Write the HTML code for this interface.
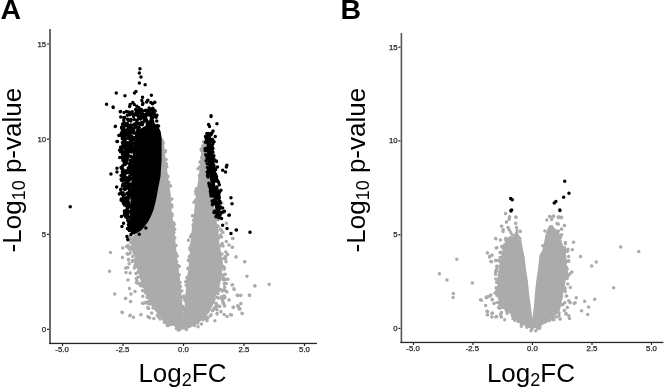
<!DOCTYPE html>
<html><head><meta charset="utf-8">
<style>
html,body{margin:0;padding:0;background:#fff;}
body{width:666px;height:389px;overflow:hidden;position:relative;font-family:"Liberation Sans",sans-serif;}
svg{position:absolute;left:0;top:0;will-change:transform;}
.tk{font-family:"Liberation Sans",sans-serif;font-size:7.8px;fill:#262626;stroke:#262626;stroke-width:0.25px;}
.ttl{font-family:"Liberation Sans",sans-serif;font-size:26px;fill:#000;}
.sub{font-size:18px;}
.pl{font-family:"Liberation Sans",sans-serif;font-size:28.5px;font-weight:bold;fill:#000;}
</style></head>
<body>
<svg width="666" height="389" viewBox="0 0 666 389">
<!-- panel labels -->
<text class="pl" x="0.5" y="18.5">A</text>
<text class="pl" x="340.6" y="18.5">B</text>

<!-- ===== Panel A axes ===== -->
<g id="axA">
<rect x="49" y="29" width="2" height="315" fill="#6a6a6a"/>
<rect x="49" y="342.8" width="268" height="1.3" fill="#262626"/>
<!-- y ticks -->
<g stroke="#222" stroke-width="1.2">
<line x1="47" y1="329.3" x2="49" y2="329.3"/>
<line x1="47" y1="234.3" x2="49" y2="234.3"/>
<line x1="47" y1="139.2" x2="49" y2="139.2"/>
<line x1="47" y1="44" x2="49" y2="44"/>
<line x1="62.5" y1="344" x2="62.5" y2="346"/>
<line x1="123" y1="344" x2="123" y2="346"/>
<line x1="183.5" y1="344" x2="183.5" y2="346"/>
<line x1="244" y1="344" x2="244" y2="346"/>
<line x1="304.5" y1="344" x2="304.5" y2="346"/>
</g>
<g class="tk" text-anchor="end">
<text x="46.2" y="331.8">0</text>
<text x="46.2" y="236.8">5</text>
<text x="46.2" y="141.7">10</text>
<text x="46.2" y="46.5">15</text>
</g>
<g class="tk" text-anchor="middle">
<text x="62" y="352.3">-5.0</text>
<text x="122.5" y="352.3">-2.5</text>
<text x="183.5" y="352.3">0.0</text>
<text x="244" y="352.3">2.5</text>
<text x="304.5" y="352.3">5.0</text>
</g>
<text class="ttl" x="138.4" y="382">Log<tspan class="sub" dy="4">2</tspan><tspan dy="-4">FC</tspan></text>
<text class="ttl" transform="translate(20.8,252.4) rotate(-90)">-Log<tspan class="sub" dy="4">10</tspan><tspan dy="-4"> p-value</tspan></text>
</g>

<!-- ===== Panel B axes ===== -->
<g id="axB">
<rect x="400.6" y="33" width="1.6" height="310" fill="#555"/>
<rect x="400.4" y="341.8" width="263" height="1.3" fill="#262626"/>
<g stroke="#222" stroke-width="1.2">
<line x1="398.4" y1="328.4" x2="400.4" y2="328.4"/>
<line x1="398.4" y1="234.7" x2="400.4" y2="234.7"/>
<line x1="398.4" y1="140.9" x2="400.4" y2="140.9"/>
<line x1="398.4" y1="47.2" x2="400.4" y2="47.2"/>
<line x1="413.5" y1="343" x2="413.5" y2="345"/>
<line x1="472.9" y1="343" x2="472.9" y2="345"/>
<line x1="532.4" y1="343" x2="532.4" y2="345"/>
<line x1="592" y1="343" x2="592" y2="345"/>
<line x1="651.5" y1="343" x2="651.5" y2="345"/>
</g>
<g class="tk" text-anchor="end">
<text x="397.6" y="330.9">0</text>
<text x="397.6" y="237.2">5</text>
<text x="397.6" y="143.4">10</text>
<text x="397.6" y="49.7">15</text>
</g>
<g class="tk" text-anchor="middle">
<text x="413" y="351.4">-5.0</text>
<text x="472.4" y="351.4">-2.5</text>
<text x="532.4" y="351.4">0.0</text>
<text x="592" y="351.4">2.5</text>
<text x="651.5" y="351.4">5.0</text>
</g>
<text class="ttl" x="486.9" y="382">Log<tspan class="sub" dy="4">2</tspan><tspan dy="-4">FC</tspan></text>
<text class="ttl" transform="translate(364.8,252.4) rotate(-90)">-Log<tspan class="sub" dy="4">10</tspan><tspan dy="-4"> p-value</tspan></text>
</g>

<polygon fill="#ababab" points="160.0,136.0 162.5,139.0 164.0,143.0 164.9,151.3 165.7,159.5 166.5,166.0 168.2,176.5 169.0,184.8 170.6,193.0 171.1,201.3 171.5,209.5 172.3,216.0 174.0,226.5 175.6,243.0 177.3,259.5 178.1,266.0 179.7,276.5 181.4,293.0 182.7,309.5 183.7,318.0 184.4,309.5 185.5,293.0 187.2,276.5 188.8,266.0 189.3,259.5 190.5,243.0 192.1,226.5 193.8,216.0 194.3,209.5 196.2,193.0 198.7,176.5 200.4,160.0 201.5,150.0 202.5,144.0 204.0,142.0 206.0,141.0 209.0,150.0 211.0,165.0 213.0,190.0 214.5,210.0 215.2,216.0 217.7,226.5 219.4,243.0 222.2,259.5 223.5,266.0 222.5,268.3 221.7,276.5 220.0,284.8 218.4,293.0 216.2,295.0 215.0,301.0 212.0,307.0 209.0,313.0 203.0,319.0 197.0,323.8 190.8,327.4 183.6,329.8 177.3,327.4 168.9,323.8 162.9,319.0 156.8,313.0 152.0,307.0 150.2,301.0 147.2,295.0 145.9,293.0 141.8,284.8 139.3,276.5 137.5,268.3 136.5,260.0 132.5,253.0 131.0,246.3 132.0,239.7 134.0,233.0 140.0,225.0 150.0,214.0 155.0,195.0 158.0,175.0 158.0,150.0"/>
<path fill="#ababab" d="M130.4 239.8a1.75 1.75 0 1 0 3.50 0a1.75 1.75 0 1 0 -3.50 0M132.5 267.9a1.75 1.75 0 1 0 3.50 0a1.75 1.75 0 1 0 -3.50 0M208.6 315.8a1.75 1.75 0 1 0 3.50 0a1.75 1.75 0 1 0 -3.50 0M161.2 318.1a1.75 1.75 0 1 0 3.50 0a1.75 1.75 0 1 0 -3.50 0M222.4 295.8a1.75 1.75 0 1 0 3.50 0a1.75 1.75 0 1 0 -3.50 0M216.9 306.1a1.75 1.75 0 1 0 3.50 0a1.75 1.75 0 1 0 -3.50 0M214.3 308.2a1.75 1.75 0 1 0 3.50 0a1.75 1.75 0 1 0 -3.50 0M134.7 258.0a1.75 1.75 0 1 0 3.50 0a1.75 1.75 0 1 0 -3.50 0M178.6 329.0a1.75 1.75 0 1 0 3.50 0a1.75 1.75 0 1 0 -3.50 0M212.1 309.1a1.75 1.75 0 1 0 3.50 0a1.75 1.75 0 1 0 -3.50 0M127.1 248.3a1.75 1.75 0 1 0 3.50 0a1.75 1.75 0 1 0 -3.50 0M222.8 267.7a1.75 1.75 0 1 0 3.50 0a1.75 1.75 0 1 0 -3.50 0M222.6 258.1a1.75 1.75 0 1 0 3.50 0a1.75 1.75 0 1 0 -3.50 0M218.0 306.4a1.75 1.75 0 1 0 3.50 0a1.75 1.75 0 1 0 -3.50 0M224.3 261.7a1.75 1.75 0 1 0 3.50 0a1.75 1.75 0 1 0 -3.50 0M165.6 325.4a1.75 1.75 0 1 0 3.50 0a1.75 1.75 0 1 0 -3.50 0M225.2 291.9a1.75 1.75 0 1 0 3.50 0a1.75 1.75 0 1 0 -3.50 0M224.3 291.0a1.75 1.75 0 1 0 3.50 0a1.75 1.75 0 1 0 -3.50 0M167.6 322.0a1.75 1.75 0 1 0 3.50 0a1.75 1.75 0 1 0 -3.50 0M135.2 280.7a1.75 1.75 0 1 0 3.50 0a1.75 1.75 0 1 0 -3.50 0M173.5 324.7a1.75 1.75 0 1 0 3.50 0a1.75 1.75 0 1 0 -3.50 0M221.3 246.0a1.75 1.75 0 1 0 3.50 0a1.75 1.75 0 1 0 -3.50 0M136.8 267.1a1.75 1.75 0 1 0 3.50 0a1.75 1.75 0 1 0 -3.50 0M131.7 243.8a1.75 1.75 0 1 0 3.50 0a1.75 1.75 0 1 0 -3.50 0M205.0 319.6a1.75 1.75 0 1 0 3.50 0a1.75 1.75 0 1 0 -3.50 0M126.1 254.3a1.75 1.75 0 1 0 3.50 0a1.75 1.75 0 1 0 -3.50 0M129.4 239.3a1.75 1.75 0 1 0 3.50 0a1.75 1.75 0 1 0 -3.50 0M224.4 279.2a1.75 1.75 0 1 0 3.50 0a1.75 1.75 0 1 0 -3.50 0M124.8 246.5a1.75 1.75 0 1 0 3.50 0a1.75 1.75 0 1 0 -3.50 0M133.5 262.1a1.75 1.75 0 1 0 3.50 0a1.75 1.75 0 1 0 -3.50 0M138.6 276.5a1.75 1.75 0 1 0 3.50 0a1.75 1.75 0 1 0 -3.50 0M131.9 246.7a1.75 1.75 0 1 0 3.50 0a1.75 1.75 0 1 0 -3.50 0M130.5 247.0a1.75 1.75 0 1 0 3.50 0a1.75 1.75 0 1 0 -3.50 0M216.3 239.0a1.75 1.75 0 1 0 3.50 0a1.75 1.75 0 1 0 -3.50 0M138.8 276.5a1.75 1.75 0 1 0 3.50 0a1.75 1.75 0 1 0 -3.50 0M215.6 297.2a1.75 1.75 0 1 0 3.50 0a1.75 1.75 0 1 0 -3.50 0M219.7 298.4a1.75 1.75 0 1 0 3.50 0a1.75 1.75 0 1 0 -3.50 0M215.3 309.8a1.75 1.75 0 1 0 3.50 0a1.75 1.75 0 1 0 -3.50 0M221.1 279.4a1.75 1.75 0 1 0 3.50 0a1.75 1.75 0 1 0 -3.50 0M219.7 230.7a1.75 1.75 0 1 0 3.50 0a1.75 1.75 0 1 0 -3.50 0M130.6 248.1a1.75 1.75 0 1 0 3.50 0a1.75 1.75 0 1 0 -3.50 0M214.2 218.5a1.75 1.75 0 1 0 3.50 0a1.75 1.75 0 1 0 -3.50 0M164.6 323.0a1.75 1.75 0 1 0 3.50 0a1.75 1.75 0 1 0 -3.50 0M209.3 314.8a1.75 1.75 0 1 0 3.50 0a1.75 1.75 0 1 0 -3.50 0M221.2 299.4a1.75 1.75 0 1 0 3.50 0a1.75 1.75 0 1 0 -3.50 0M223.0 290.4a1.75 1.75 0 1 0 3.50 0a1.75 1.75 0 1 0 -3.50 0M223.2 297.4a1.75 1.75 0 1 0 3.50 0a1.75 1.75 0 1 0 -3.50 0M224.1 252.0a1.75 1.75 0 1 0 3.50 0a1.75 1.75 0 1 0 -3.50 0M147.1 303.8a1.75 1.75 0 1 0 3.50 0a1.75 1.75 0 1 0 -3.50 0M192.8 325.6a1.75 1.75 0 1 0 3.50 0a1.75 1.75 0 1 0 -3.50 0M130.4 261.4a1.75 1.75 0 1 0 3.50 0a1.75 1.75 0 1 0 -3.50 0M220.2 254.0a1.75 1.75 0 1 0 3.50 0a1.75 1.75 0 1 0 -3.50 0M162.6 322.2a1.75 1.75 0 1 0 3.50 0a1.75 1.75 0 1 0 -3.50 0M216.6 219.5a1.75 1.75 0 1 0 3.50 0a1.75 1.75 0 1 0 -3.50 0M219.0 245.7a1.75 1.75 0 1 0 3.50 0a1.75 1.75 0 1 0 -3.50 0M201.2 319.8a1.75 1.75 0 1 0 3.50 0a1.75 1.75 0 1 0 -3.50 0M222.9 287.3a1.75 1.75 0 1 0 3.50 0a1.75 1.75 0 1 0 -3.50 0M218.6 289.2a1.75 1.75 0 1 0 3.50 0a1.75 1.75 0 1 0 -3.50 0M219.8 237.1a1.75 1.75 0 1 0 3.50 0a1.75 1.75 0 1 0 -3.50 0M144.6 303.0a1.75 1.75 0 1 0 3.50 0a1.75 1.75 0 1 0 -3.50 0M134.2 273.6a1.75 1.75 0 1 0 3.50 0a1.75 1.75 0 1 0 -3.50 0M128.4 249.9a1.75 1.75 0 1 0 3.50 0a1.75 1.75 0 1 0 -3.50 0M224.5 283.4a1.75 1.75 0 1 0 3.50 0a1.75 1.75 0 1 0 -3.50 0M220.1 259.0a1.75 1.75 0 1 0 3.50 0a1.75 1.75 0 1 0 -3.50 0M125.4 253.8a1.75 1.75 0 1 0 3.50 0a1.75 1.75 0 1 0 -3.50 0M141.1 296.3a1.75 1.75 0 1 0 3.50 0a1.75 1.75 0 1 0 -3.50 0M135.5 272.7a1.75 1.75 0 1 0 3.50 0a1.75 1.75 0 1 0 -3.50 0M133.7 267.0a1.75 1.75 0 1 0 3.50 0a1.75 1.75 0 1 0 -3.50 0M174.9 326.5a1.75 1.75 0 1 0 3.50 0a1.75 1.75 0 1 0 -3.50 0M218.6 235.1a1.75 1.75 0 1 0 3.50 0a1.75 1.75 0 1 0 -3.50 0M131.0 256.5a1.75 1.75 0 1 0 3.50 0a1.75 1.75 0 1 0 -3.50 0M128.0 237.0a1.75 1.75 0 1 0 3.50 0a1.75 1.75 0 1 0 -3.50 0M136.1 277.3a1.75 1.75 0 1 0 3.50 0a1.75 1.75 0 1 0 -3.50 0M214.0 306.3a1.75 1.75 0 1 0 3.50 0a1.75 1.75 0 1 0 -3.50 0M220.8 300.7a1.75 1.75 0 1 0 3.50 0a1.75 1.75 0 1 0 -3.50 0M221.2 232.4a1.75 1.75 0 1 0 3.50 0a1.75 1.75 0 1 0 -3.50 0M214.9 217.8a1.75 1.75 0 1 0 3.50 0a1.75 1.75 0 1 0 -3.50 0M211.6 309.8a1.75 1.75 0 1 0 3.50 0a1.75 1.75 0 1 0 -3.50 0M126.4 245.6a1.75 1.75 0 1 0 3.50 0a1.75 1.75 0 1 0 -3.50 0M223.5 274.2a1.75 1.75 0 1 0 3.50 0a1.75 1.75 0 1 0 -3.50 0M127.4 263.7a1.75 1.75 0 1 0 3.50 0a1.75 1.75 0 1 0 -3.50 0M216.0 226.0a1.75 1.75 0 1 0 3.50 0a1.75 1.75 0 1 0 -3.50 0M215.8 218.9a1.75 1.75 0 1 0 3.50 0a1.75 1.75 0 1 0 -3.50 0M137.2 269.4a1.75 1.75 0 1 0 3.50 0a1.75 1.75 0 1 0 -3.50 0M134.7 260.4a1.75 1.75 0 1 0 3.50 0a1.75 1.75 0 1 0 -3.50 0M138.9 285.7a1.75 1.75 0 1 0 3.50 0a1.75 1.75 0 1 0 -3.50 0M134.3 264.5a1.75 1.75 0 1 0 3.50 0a1.75 1.75 0 1 0 -3.50 0M143.1 291.6a1.75 1.75 0 1 0 3.50 0a1.75 1.75 0 1 0 -3.50 0M174.7 328.6a1.75 1.75 0 1 0 3.50 0a1.75 1.75 0 1 0 -3.50 0M221.1 276.0a1.75 1.75 0 1 0 3.50 0a1.75 1.75 0 1 0 -3.50 0M134.7 282.4a1.75 1.75 0 1 0 3.50 0a1.75 1.75 0 1 0 -3.50 0M166.5 325.5a1.75 1.75 0 1 0 3.50 0a1.75 1.75 0 1 0 -3.50 0M145.9 295.0a1.75 1.75 0 1 0 3.50 0a1.75 1.75 0 1 0 -3.50 0M147.4 301.6a1.75 1.75 0 1 0 3.50 0a1.75 1.75 0 1 0 -3.50 0M221.1 276.9a1.75 1.75 0 1 0 3.50 0a1.75 1.75 0 1 0 -3.50 0M146.8 308.6a1.75 1.75 0 1 0 3.50 0a1.75 1.75 0 1 0 -3.50 0M214.2 225.1a1.75 1.75 0 1 0 3.50 0a1.75 1.75 0 1 0 -3.50 0M217.6 218.0a1.75 1.75 0 1 0 3.50 0a1.75 1.75 0 1 0 -3.50 0M215.1 219.8a1.75 1.75 0 1 0 3.50 0a1.75 1.75 0 1 0 -3.50 0M218.9 229.3a1.75 1.75 0 1 0 3.50 0a1.75 1.75 0 1 0 -3.50 0M216.5 226.5a1.75 1.75 0 1 0 3.50 0a1.75 1.75 0 1 0 -3.50 0M215.7 230.6a1.75 1.75 0 1 0 3.50 0a1.75 1.75 0 1 0 -3.50 0M215.4 231.6a1.75 1.75 0 1 0 3.50 0a1.75 1.75 0 1 0 -3.50 0M218.1 236.9a1.75 1.75 0 1 0 3.50 0a1.75 1.75 0 1 0 -3.50 0M217.6 254.2a1.75 1.75 0 1 0 3.50 0a1.75 1.75 0 1 0 -3.50 0M223.9 256.4a1.75 1.75 0 1 0 3.50 0a1.75 1.75 0 1 0 -3.50 0M220.4 243.5a1.75 1.75 0 1 0 3.50 0a1.75 1.75 0 1 0 -3.50 0M217.2 256.4a1.75 1.75 0 1 0 3.50 0a1.75 1.75 0 1 0 -3.50 0M220.1 245.0a1.75 1.75 0 1 0 3.50 0a1.75 1.75 0 1 0 -3.50 0M219.1 259.9a1.75 1.75 0 1 0 3.50 0a1.75 1.75 0 1 0 -3.50 0M223.7 258.9a1.75 1.75 0 1 0 3.50 0a1.75 1.75 0 1 0 -3.50 0M221.5 266.6a1.75 1.75 0 1 0 3.50 0a1.75 1.75 0 1 0 -3.50 0M222.3 269.3a1.75 1.75 0 1 0 3.50 0a1.75 1.75 0 1 0 -3.50 0M221.9 274.8a1.75 1.75 0 1 0 3.50 0a1.75 1.75 0 1 0 -3.50 0M222.3 280.0a1.75 1.75 0 1 0 3.50 0a1.75 1.75 0 1 0 -3.50 0M222.5 283.9a1.75 1.75 0 1 0 3.50 0a1.75 1.75 0 1 0 -3.50 0M222.3 278.4a1.75 1.75 0 1 0 3.50 0a1.75 1.75 0 1 0 -3.50 0M216.3 291.1a1.75 1.75 0 1 0 3.50 0a1.75 1.75 0 1 0 -3.50 0M220.4 290.9a1.75 1.75 0 1 0 3.50 0a1.75 1.75 0 1 0 -3.50 0M215.8 291.5a1.75 1.75 0 1 0 3.50 0a1.75 1.75 0 1 0 -3.50 0M216.2 293.4a1.75 1.75 0 1 0 3.50 0a1.75 1.75 0 1 0 -3.50 0M212.3 299.2a1.75 1.75 0 1 0 3.50 0a1.75 1.75 0 1 0 -3.50 0M216.4 298.1a1.75 1.75 0 1 0 3.50 0a1.75 1.75 0 1 0 -3.50 0M211.8 302.3a1.75 1.75 0 1 0 3.50 0a1.75 1.75 0 1 0 -3.50 0M214.5 303.4a1.75 1.75 0 1 0 3.50 0a1.75 1.75 0 1 0 -3.50 0M212.2 308.4a1.75 1.75 0 1 0 3.50 0a1.75 1.75 0 1 0 -3.50 0M210.7 310.7a1.75 1.75 0 1 0 3.50 0a1.75 1.75 0 1 0 -3.50 0M206.0 317.7a1.75 1.75 0 1 0 3.50 0a1.75 1.75 0 1 0 -3.50 0M204.7 316.9a1.75 1.75 0 1 0 3.50 0a1.75 1.75 0 1 0 -3.50 0M202.7 318.5a1.75 1.75 0 1 0 3.50 0a1.75 1.75 0 1 0 -3.50 0M197.4 319.9a1.75 1.75 0 1 0 3.50 0a1.75 1.75 0 1 0 -3.50 0M196.1 322.9a1.75 1.75 0 1 0 3.50 0a1.75 1.75 0 1 0 -3.50 0M191.3 322.4a1.75 1.75 0 1 0 3.50 0a1.75 1.75 0 1 0 -3.50 0M196.3 326.7a1.75 1.75 0 1 0 3.50 0a1.75 1.75 0 1 0 -3.50 0M184.6 329.4a1.75 1.75 0 1 0 3.50 0a1.75 1.75 0 1 0 -3.50 0M184.8 329.3a1.75 1.75 0 1 0 3.50 0a1.75 1.75 0 1 0 -3.50 0M176.7 330.3a1.75 1.75 0 1 0 3.50 0a1.75 1.75 0 1 0 -3.50 0M175.6 327.6a1.75 1.75 0 1 0 3.50 0a1.75 1.75 0 1 0 -3.50 0M172.5 322.8a1.75 1.75 0 1 0 3.50 0a1.75 1.75 0 1 0 -3.50 0M174.8 328.4a1.75 1.75 0 1 0 3.50 0a1.75 1.75 0 1 0 -3.50 0M169.7 324.5a1.75 1.75 0 1 0 3.50 0a1.75 1.75 0 1 0 -3.50 0M162.2 319.4a1.75 1.75 0 1 0 3.50 0a1.75 1.75 0 1 0 -3.50 0M165.8 321.0a1.75 1.75 0 1 0 3.50 0a1.75 1.75 0 1 0 -3.50 0M155.6 315.2a1.75 1.75 0 1 0 3.50 0a1.75 1.75 0 1 0 -3.50 0M160.5 317.1a1.75 1.75 0 1 0 3.50 0a1.75 1.75 0 1 0 -3.50 0M156.7 316.8a1.75 1.75 0 1 0 3.50 0a1.75 1.75 0 1 0 -3.50 0M151.2 308.0a1.75 1.75 0 1 0 3.50 0a1.75 1.75 0 1 0 -3.50 0M149.9 313.1a1.75 1.75 0 1 0 3.50 0a1.75 1.75 0 1 0 -3.50 0M148.9 304.1a1.75 1.75 0 1 0 3.50 0a1.75 1.75 0 1 0 -3.50 0M145.7 302.0a1.75 1.75 0 1 0 3.50 0a1.75 1.75 0 1 0 -3.50 0M145.4 297.6a1.75 1.75 0 1 0 3.50 0a1.75 1.75 0 1 0 -3.50 0M148.2 298.8a1.75 1.75 0 1 0 3.50 0a1.75 1.75 0 1 0 -3.50 0M146.2 293.6a1.75 1.75 0 1 0 3.50 0a1.75 1.75 0 1 0 -3.50 0M141.4 286.3a1.75 1.75 0 1 0 3.50 0a1.75 1.75 0 1 0 -3.50 0M143.8 292.7a1.75 1.75 0 1 0 3.50 0a1.75 1.75 0 1 0 -3.50 0M144.5 287.2a1.75 1.75 0 1 0 3.50 0a1.75 1.75 0 1 0 -3.50 0M139.2 284.6a1.75 1.75 0 1 0 3.50 0a1.75 1.75 0 1 0 -3.50 0M138.6 283.5a1.75 1.75 0 1 0 3.50 0a1.75 1.75 0 1 0 -3.50 0M138.9 276.8a1.75 1.75 0 1 0 3.50 0a1.75 1.75 0 1 0 -3.50 0M137.0 269.8a1.75 1.75 0 1 0 3.50 0a1.75 1.75 0 1 0 -3.50 0M137.0 268.8a1.75 1.75 0 1 0 3.50 0a1.75 1.75 0 1 0 -3.50 0M137.2 271.2a1.75 1.75 0 1 0 3.50 0a1.75 1.75 0 1 0 -3.50 0M136.5 262.3a1.75 1.75 0 1 0 3.50 0a1.75 1.75 0 1 0 -3.50 0M136.3 266.4a1.75 1.75 0 1 0 3.50 0a1.75 1.75 0 1 0 -3.50 0M137.2 262.5a1.75 1.75 0 1 0 3.50 0a1.75 1.75 0 1 0 -3.50 0M133.0 260.1a1.75 1.75 0 1 0 3.50 0a1.75 1.75 0 1 0 -3.50 0M130.7 260.6a1.75 1.75 0 1 0 3.50 0a1.75 1.75 0 1 0 -3.50 0M127.9 247.2a1.75 1.75 0 1 0 3.50 0a1.75 1.75 0 1 0 -3.50 0M131.2 248.3a1.75 1.75 0 1 0 3.50 0a1.75 1.75 0 1 0 -3.50 0M126.8 240.6a1.75 1.75 0 1 0 3.50 0a1.75 1.75 0 1 0 -3.50 0M129.1 242.5a1.75 1.75 0 1 0 3.50 0a1.75 1.75 0 1 0 -3.50 0M128.9 236.2a1.75 1.75 0 1 0 3.50 0a1.75 1.75 0 1 0 -3.50 0M132.4 238.0a1.75 1.75 0 1 0 3.50 0a1.75 1.75 0 1 0 -3.50 0M136.3 224.4a1.75 1.75 0 1 0 3.50 0a1.75 1.75 0 1 0 -3.50 0M132.3 232.4a1.75 1.75 0 1 0 3.50 0a1.75 1.75 0 1 0 -3.50 0M132.5 231.7a1.75 1.75 0 1 0 3.50 0a1.75 1.75 0 1 0 -3.50 0M159.2 139.3a1.75 1.75 0 1 0 3.50 0a1.75 1.75 0 1 0 -3.50 0M160.8 141.0a1.75 1.75 0 1 0 3.50 0a1.75 1.75 0 1 0 -3.50 0M161.6 143.2a1.75 1.75 0 1 0 3.50 0a1.75 1.75 0 1 0 -3.50 0M163.7 150.7a1.75 1.75 0 1 0 3.50 0a1.75 1.75 0 1 0 -3.50 0M163.2 159.4a1.75 1.75 0 1 0 3.50 0a1.75 1.75 0 1 0 -3.50 0M163.3 152.1a1.75 1.75 0 1 0 3.50 0a1.75 1.75 0 1 0 -3.50 0M164.6 163.7a1.75 1.75 0 1 0 3.50 0a1.75 1.75 0 1 0 -3.50 0M164.3 159.6a1.75 1.75 0 1 0 3.50 0a1.75 1.75 0 1 0 -3.50 0M164.6 166.1a1.75 1.75 0 1 0 3.50 0a1.75 1.75 0 1 0 -3.50 0M166.1 176.2a1.75 1.75 0 1 0 3.50 0a1.75 1.75 0 1 0 -3.50 0M165.1 166.9a1.75 1.75 0 1 0 3.50 0a1.75 1.75 0 1 0 -3.50 0M166.2 176.7a1.75 1.75 0 1 0 3.50 0a1.75 1.75 0 1 0 -3.50 0M167.1 182.5a1.75 1.75 0 1 0 3.50 0a1.75 1.75 0 1 0 -3.50 0M168.7 186.1a1.75 1.75 0 1 0 3.50 0a1.75 1.75 0 1 0 -3.50 0M167.5 185.2a1.75 1.75 0 1 0 3.50 0a1.75 1.75 0 1 0 -3.50 0M168.2 200.2a1.75 1.75 0 1 0 3.50 0a1.75 1.75 0 1 0 -3.50 0M170.1 199.0a1.75 1.75 0 1 0 3.50 0a1.75 1.75 0 1 0 -3.50 0M170.1 207.1a1.75 1.75 0 1 0 3.50 0a1.75 1.75 0 1 0 -3.50 0M170.0 205.1a1.75 1.75 0 1 0 3.50 0a1.75 1.75 0 1 0 -3.50 0M170.3 215.8a1.75 1.75 0 1 0 3.50 0a1.75 1.75 0 1 0 -3.50 0M170.4 214.1a1.75 1.75 0 1 0 3.50 0a1.75 1.75 0 1 0 -3.50 0M171.7 222.8a1.75 1.75 0 1 0 3.50 0a1.75 1.75 0 1 0 -3.50 0M172.5 224.5a1.75 1.75 0 1 0 3.50 0a1.75 1.75 0 1 0 -3.50 0M172.1 223.6a1.75 1.75 0 1 0 3.50 0a1.75 1.75 0 1 0 -3.50 0M173.0 229.2a1.75 1.75 0 1 0 3.50 0a1.75 1.75 0 1 0 -3.50 0M171.7 227.5a1.75 1.75 0 1 0 3.50 0a1.75 1.75 0 1 0 -3.50 0M172.2 232.6a1.75 1.75 0 1 0 3.50 0a1.75 1.75 0 1 0 -3.50 0M173.0 237.7a1.75 1.75 0 1 0 3.50 0a1.75 1.75 0 1 0 -3.50 0M174.3 245.4a1.75 1.75 0 1 0 3.50 0a1.75 1.75 0 1 0 -3.50 0M174.3 253.7a1.75 1.75 0 1 0 3.50 0a1.75 1.75 0 1 0 -3.50 0M174.3 253.5a1.75 1.75 0 1 0 3.50 0a1.75 1.75 0 1 0 -3.50 0M175.5 255.9a1.75 1.75 0 1 0 3.50 0a1.75 1.75 0 1 0 -3.50 0M176.5 265.6a1.75 1.75 0 1 0 3.50 0a1.75 1.75 0 1 0 -3.50 0M174.9 261.5a1.75 1.75 0 1 0 3.50 0a1.75 1.75 0 1 0 -3.50 0M177.5 266.5a1.75 1.75 0 1 0 3.50 0a1.75 1.75 0 1 0 -3.50 0M177.5 274.7a1.75 1.75 0 1 0 3.50 0a1.75 1.75 0 1 0 -3.50 0M175.4 269.7a1.75 1.75 0 1 0 3.50 0a1.75 1.75 0 1 0 -3.50 0M178.2 290.3a1.75 1.75 0 1 0 3.50 0a1.75 1.75 0 1 0 -3.50 0M178.7 286.4a1.75 1.75 0 1 0 3.50 0a1.75 1.75 0 1 0 -3.50 0M180.1 291.1a1.75 1.75 0 1 0 3.50 0a1.75 1.75 0 1 0 -3.50 0M178.2 282.8a1.75 1.75 0 1 0 3.50 0a1.75 1.75 0 1 0 -3.50 0M179.9 307.9a1.75 1.75 0 1 0 3.50 0a1.75 1.75 0 1 0 -3.50 0M180.7 306.3a1.75 1.75 0 1 0 3.50 0a1.75 1.75 0 1 0 -3.50 0M180.0 297.3a1.75 1.75 0 1 0 3.50 0a1.75 1.75 0 1 0 -3.50 0M179.1 300.1a1.75 1.75 0 1 0 3.50 0a1.75 1.75 0 1 0 -3.50 0M181.2 317.1a1.75 1.75 0 1 0 3.50 0a1.75 1.75 0 1 0 -3.50 0M181.6 309.8a1.75 1.75 0 1 0 3.50 0a1.75 1.75 0 1 0 -3.50 0M183.7 310.7a1.75 1.75 0 1 0 3.50 0a1.75 1.75 0 1 0 -3.50 0M182.6 313.2a1.75 1.75 0 1 0 3.50 0a1.75 1.75 0 1 0 -3.50 0M182.2 296.1a1.75 1.75 0 1 0 3.50 0a1.75 1.75 0 1 0 -3.50 0M182.9 298.2a1.75 1.75 0 1 0 3.50 0a1.75 1.75 0 1 0 -3.50 0M183.1 308.1a1.75 1.75 0 1 0 3.50 0a1.75 1.75 0 1 0 -3.50 0M183.1 300.4a1.75 1.75 0 1 0 3.50 0a1.75 1.75 0 1 0 -3.50 0M185.5 280.7a1.75 1.75 0 1 0 3.50 0a1.75 1.75 0 1 0 -3.50 0M185.2 277.6a1.75 1.75 0 1 0 3.50 0a1.75 1.75 0 1 0 -3.50 0M184.0 281.7a1.75 1.75 0 1 0 3.50 0a1.75 1.75 0 1 0 -3.50 0M184.4 285.3a1.75 1.75 0 1 0 3.50 0a1.75 1.75 0 1 0 -3.50 0M186.1 268.5a1.75 1.75 0 1 0 3.50 0a1.75 1.75 0 1 0 -3.50 0M187.0 268.2a1.75 1.75 0 1 0 3.50 0a1.75 1.75 0 1 0 -3.50 0M186.7 268.0a1.75 1.75 0 1 0 3.50 0a1.75 1.75 0 1 0 -3.50 0M187.3 261.0a1.75 1.75 0 1 0 3.50 0a1.75 1.75 0 1 0 -3.50 0M186.6 260.1a1.75 1.75 0 1 0 3.50 0a1.75 1.75 0 1 0 -3.50 0M189.4 245.0a1.75 1.75 0 1 0 3.50 0a1.75 1.75 0 1 0 -3.50 0M188.4 249.8a1.75 1.75 0 1 0 3.50 0a1.75 1.75 0 1 0 -3.50 0M187.6 256.4a1.75 1.75 0 1 0 3.50 0a1.75 1.75 0 1 0 -3.50 0M188.0 247.9a1.75 1.75 0 1 0 3.50 0a1.75 1.75 0 1 0 -3.50 0M190.0 237.1a1.75 1.75 0 1 0 3.50 0a1.75 1.75 0 1 0 -3.50 0M189.9 234.5a1.75 1.75 0 1 0 3.50 0a1.75 1.75 0 1 0 -3.50 0M186.7 240.3a1.75 1.75 0 1 0 3.50 0a1.75 1.75 0 1 0 -3.50 0M188.7 236.8a1.75 1.75 0 1 0 3.50 0a1.75 1.75 0 1 0 -3.50 0M191.3 225.5a1.75 1.75 0 1 0 3.50 0a1.75 1.75 0 1 0 -3.50 0M191.5 225.0a1.75 1.75 0 1 0 3.50 0a1.75 1.75 0 1 0 -3.50 0M191.8 220.3a1.75 1.75 0 1 0 3.50 0a1.75 1.75 0 1 0 -3.50 0M191.4 215.8a1.75 1.75 0 1 0 3.50 0a1.75 1.75 0 1 0 -3.50 0M190.7 215.7a1.75 1.75 0 1 0 3.50 0a1.75 1.75 0 1 0 -3.50 0M193.6 201.5a1.75 1.75 0 1 0 3.50 0a1.75 1.75 0 1 0 -3.50 0M193.7 200.2a1.75 1.75 0 1 0 3.50 0a1.75 1.75 0 1 0 -3.50 0M192.2 202.3a1.75 1.75 0 1 0 3.50 0a1.75 1.75 0 1 0 -3.50 0M194.2 193.9a1.75 1.75 0 1 0 3.50 0a1.75 1.75 0 1 0 -3.50 0M198.1 177.3a1.75 1.75 0 1 0 3.50 0a1.75 1.75 0 1 0 -3.50 0M194.6 188.7a1.75 1.75 0 1 0 3.50 0a1.75 1.75 0 1 0 -3.50 0M194.8 190.0a1.75 1.75 0 1 0 3.50 0a1.75 1.75 0 1 0 -3.50 0M193.8 191.5a1.75 1.75 0 1 0 3.50 0a1.75 1.75 0 1 0 -3.50 0M198.2 162.1a1.75 1.75 0 1 0 3.50 0a1.75 1.75 0 1 0 -3.50 0M196.3 168.8a1.75 1.75 0 1 0 3.50 0a1.75 1.75 0 1 0 -3.50 0M197.6 175.5a1.75 1.75 0 1 0 3.50 0a1.75 1.75 0 1 0 -3.50 0M198.2 166.7a1.75 1.75 0 1 0 3.50 0a1.75 1.75 0 1 0 -3.50 0M199.5 150.4a1.75 1.75 0 1 0 3.50 0a1.75 1.75 0 1 0 -3.50 0M199.8 157.5a1.75 1.75 0 1 0 3.50 0a1.75 1.75 0 1 0 -3.50 0M200.1 150.5a1.75 1.75 0 1 0 3.50 0a1.75 1.75 0 1 0 -3.50 0M201.0 146.1a1.75 1.75 0 1 0 3.50 0a1.75 1.75 0 1 0 -3.50 0M199.4 149.0a1.75 1.75 0 1 0 3.50 0a1.75 1.75 0 1 0 -3.50 0M201.8 141.8a1.75 1.75 0 1 0 3.50 0a1.75 1.75 0 1 0 -3.50 0M202.3 142.0a1.75 1.75 0 1 0 3.50 0a1.75 1.75 0 1 0 -3.50 0M108.7 252.6a1.75 1.75 0 1 0 3.50 0a1.75 1.75 0 1 0 -3.50 0M121.0 248.0a1.75 1.75 0 1 0 3.50 0a1.75 1.75 0 1 0 -3.50 0M120.7 257.6a1.75 1.75 0 1 0 3.50 0a1.75 1.75 0 1 0 -3.50 0M126.8 259.2a1.75 1.75 0 1 0 3.50 0a1.75 1.75 0 1 0 -3.50 0M128.4 253.3a1.75 1.75 0 1 0 3.50 0a1.75 1.75 0 1 0 -3.50 0M107.8 271.2a1.75 1.75 0 1 0 3.50 0a1.75 1.75 0 1 0 -3.50 0M113.0 293.9a1.75 1.75 0 1 0 3.50 0a1.75 1.75 0 1 0 -3.50 0M120.7 312.5a1.75 1.75 0 1 0 3.50 0a1.75 1.75 0 1 0 -3.50 0M124.0 267.9a1.75 1.75 0 1 0 3.50 0a1.75 1.75 0 1 0 -3.50 0M126.0 267.4a1.75 1.75 0 1 0 3.50 0a1.75 1.75 0 1 0 -3.50 0M124.2 272.4a1.75 1.75 0 1 0 3.50 0a1.75 1.75 0 1 0 -3.50 0M128.4 272.9a1.75 1.75 0 1 0 3.50 0a1.75 1.75 0 1 0 -3.50 0M126.2 280.1a1.75 1.75 0 1 0 3.50 0a1.75 1.75 0 1 0 -3.50 0M127.7 288.4a1.75 1.75 0 1 0 3.50 0a1.75 1.75 0 1 0 -3.50 0M129.2 293.9a1.75 1.75 0 1 0 3.50 0a1.75 1.75 0 1 0 -3.50 0M133.3 291.4a1.75 1.75 0 1 0 3.50 0a1.75 1.75 0 1 0 -3.50 0M124.0 298.3a1.75 1.75 0 1 0 3.50 0a1.75 1.75 0 1 0 -3.50 0M128.9 301.6a1.75 1.75 0 1 0 3.50 0a1.75 1.75 0 1 0 -3.50 0M134.6 278.5a1.75 1.75 0 1 0 3.50 0a1.75 1.75 0 1 0 -3.50 0M136.3 283.6a1.75 1.75 0 1 0 3.50 0a1.75 1.75 0 1 0 -3.50 0M133.3 265.3a1.75 1.75 0 1 0 3.50 0a1.75 1.75 0 1 0 -3.50 0M140.8 290.6a1.75 1.75 0 1 0 3.50 0a1.75 1.75 0 1 0 -3.50 0M141.7 303.3a1.75 1.75 0 1 0 3.50 0a1.75 1.75 0 1 0 -3.50 0M146.2 307.9a1.75 1.75 0 1 0 3.50 0a1.75 1.75 0 1 0 -3.50 0M139.2 314.5a1.75 1.75 0 1 0 3.50 0a1.75 1.75 0 1 0 -3.50 0M128.4 315.3a1.75 1.75 0 1 0 3.50 0a1.75 1.75 0 1 0 -3.50 0M126.8 260.0a1.75 1.75 0 1 0 3.50 0a1.75 1.75 0 1 0 -3.50 0M123.8 298.6a1.75 1.75 0 1 0 3.50 0a1.75 1.75 0 1 0 -3.50 0M128.7 301.6a1.75 1.75 0 1 0 3.50 0a1.75 1.75 0 1 0 -3.50 0M120.2 312.2a1.75 1.75 0 1 0 3.50 0a1.75 1.75 0 1 0 -3.50 0M128.1 315.7a1.75 1.75 0 1 0 3.50 0a1.75 1.75 0 1 0 -3.50 0M131.7 317.2a1.75 1.75 0 1 0 3.50 0a1.75 1.75 0 1 0 -3.50 0M139.2 314.8a1.75 1.75 0 1 0 3.50 0a1.75 1.75 0 1 0 -3.50 0M146.1 316.6a1.75 1.75 0 1 0 3.50 0a1.75 1.75 0 1 0 -3.50 0M147.8 317.8a1.75 1.75 0 1 0 3.50 0a1.75 1.75 0 1 0 -3.50 0M152.1 318.4a1.75 1.75 0 1 0 3.50 0a1.75 1.75 0 1 0 -3.50 0M158.4 319.0a1.75 1.75 0 1 0 3.50 0a1.75 1.75 0 1 0 -3.50 0M140.7 303.2a1.75 1.75 0 1 0 3.50 0a1.75 1.75 0 1 0 -3.50 0M143.7 302.4a1.75 1.75 0 1 0 3.50 0a1.75 1.75 0 1 0 -3.50 0M146.1 307.6a1.75 1.75 0 1 0 3.50 0a1.75 1.75 0 1 0 -3.50 0M167.2 323.8a1.75 1.75 0 1 0 3.50 0a1.75 1.75 0 1 0 -3.50 0M224.6 223.2a1.75 1.75 0 1 0 3.50 0a1.75 1.75 0 1 0 -3.50 0M230.8 238.4a1.75 1.75 0 1 0 3.50 0a1.75 1.75 0 1 0 -3.50 0M224.6 241.4a1.75 1.75 0 1 0 3.50 0a1.75 1.75 0 1 0 -3.50 0M227.2 245.0a1.75 1.75 0 1 0 3.50 0a1.75 1.75 0 1 0 -3.50 0M230.4 247.2a1.75 1.75 0 1 0 3.50 0a1.75 1.75 0 1 0 -3.50 0M234.2 256.7a1.75 1.75 0 1 0 3.50 0a1.75 1.75 0 1 0 -3.50 0M242.8 261.7a1.75 1.75 0 1 0 3.50 0a1.75 1.75 0 1 0 -3.50 0M225.8 254.6a1.75 1.75 0 1 0 3.50 0a1.75 1.75 0 1 0 -3.50 0M220.1 202.9a1.75 1.75 0 1 0 3.50 0a1.75 1.75 0 1 0 -3.50 0M245.2 276.2a1.75 1.75 0 1 0 3.50 0a1.75 1.75 0 1 0 -3.50 0M253.2 285.9a1.75 1.75 0 1 0 3.50 0a1.75 1.75 0 1 0 -3.50 0M226.2 279.3a1.75 1.75 0 1 0 3.50 0a1.75 1.75 0 1 0 -3.50 0M222.6 283.6a1.75 1.75 0 1 0 3.50 0a1.75 1.75 0 1 0 -3.50 0M230.3 285.1a1.75 1.75 0 1 0 3.50 0a1.75 1.75 0 1 0 -3.50 0M232.4 289.4a1.75 1.75 0 1 0 3.50 0a1.75 1.75 0 1 0 -3.50 0M221.8 290.1a1.75 1.75 0 1 0 3.50 0a1.75 1.75 0 1 0 -3.50 0M235.4 295.2a1.75 1.75 0 1 0 3.50 0a1.75 1.75 0 1 0 -3.50 0M239.1 295.2a1.75 1.75 0 1 0 3.50 0a1.75 1.75 0 1 0 -3.50 0M247.7 295.2a1.75 1.75 0 1 0 3.50 0a1.75 1.75 0 1 0 -3.50 0M219.6 297.2a1.75 1.75 0 1 0 3.50 0a1.75 1.75 0 1 0 -3.50 0M227.2 300.0a1.75 1.75 0 1 0 3.50 0a1.75 1.75 0 1 0 -3.50 0M221.8 303.3a1.75 1.75 0 1 0 3.50 0a1.75 1.75 0 1 0 -3.50 0M222.8 305.9a1.75 1.75 0 1 0 3.50 0a1.75 1.75 0 1 0 -3.50 0M239.1 303.4a1.75 1.75 0 1 0 3.50 0a1.75 1.75 0 1 0 -3.50 0M231.7 307.4a1.75 1.75 0 1 0 3.50 0a1.75 1.75 0 1 0 -3.50 0M236.7 306.7a1.75 1.75 0 1 0 3.50 0a1.75 1.75 0 1 0 -3.50 0M237.4 309.0a1.75 1.75 0 1 0 3.50 0a1.75 1.75 0 1 0 -3.50 0M219.2 311.7a1.75 1.75 0 1 0 3.50 0a1.75 1.75 0 1 0 -3.50 0M228.7 314.5a1.75 1.75 0 1 0 3.50 0a1.75 1.75 0 1 0 -3.50 0M240.2 313.2a1.75 1.75 0 1 0 3.50 0a1.75 1.75 0 1 0 -3.50 0M215.2 314.0a1.75 1.75 0 1 0 3.50 0a1.75 1.75 0 1 0 -3.50 0M231.3 238.5a1.75 1.75 0 1 0 3.50 0a1.75 1.75 0 1 0 -3.50 0M230.8 247.2a1.75 1.75 0 1 0 3.50 0a1.75 1.75 0 1 0 -3.50 0M234.4 257.0a1.75 1.75 0 1 0 3.50 0a1.75 1.75 0 1 0 -3.50 0M243.1 261.7a1.75 1.75 0 1 0 3.50 0a1.75 1.75 0 1 0 -3.50 0M245.2 276.2a1.75 1.75 0 1 0 3.50 0a1.75 1.75 0 1 0 -3.50 0M252.9 285.7a1.75 1.75 0 1 0 3.50 0a1.75 1.75 0 1 0 -3.50 0M267.4 284.2a1.75 1.75 0 1 0 3.50 0a1.75 1.75 0 1 0 -3.50 0M230.8 284.8a1.75 1.75 0 1 0 3.50 0a1.75 1.75 0 1 0 -3.50 0M232.2 288.8a1.75 1.75 0 1 0 3.50 0a1.75 1.75 0 1 0 -3.50 0M235.9 295.0a1.75 1.75 0 1 0 3.50 0a1.75 1.75 0 1 0 -3.50 0M247.7 295.0a1.75 1.75 0 1 0 3.50 0a1.75 1.75 0 1 0 -3.50 0M236.8 306.4a1.75 1.75 0 1 0 3.50 0a1.75 1.75 0 1 0 -3.50 0M231.3 307.3a1.75 1.75 0 1 0 3.50 0a1.75 1.75 0 1 0 -3.50 0M238.2 308.9a1.75 1.75 0 1 0 3.50 0a1.75 1.75 0 1 0 -3.50 0M240.6 313.5a1.75 1.75 0 1 0 3.50 0a1.75 1.75 0 1 0 -3.50 0M229.8 315.0a1.75 1.75 0 1 0 3.50 0a1.75 1.75 0 1 0 -3.50 0M219.7 296.8a1.75 1.75 0 1 0 3.50 0a1.75 1.75 0 1 0 -3.50 0M227.4 300.0a1.75 1.75 0 1 0 3.50 0a1.75 1.75 0 1 0 -3.50 0M235.9 295.6a1.75 1.75 0 1 0 3.50 0a1.75 1.75 0 1 0 -3.50 0M238.9 295.6a1.75 1.75 0 1 0 3.50 0a1.75 1.75 0 1 0 -3.50 0M247.9 295.6a1.75 1.75 0 1 0 3.50 0a1.75 1.75 0 1 0 -3.50 0M221.4 303.4a1.75 1.75 0 1 0 3.50 0a1.75 1.75 0 1 0 -3.50 0M222.9 305.8a1.75 1.75 0 1 0 3.50 0a1.75 1.75 0 1 0 -3.50 0M231.8 307.3a1.75 1.75 0 1 0 3.50 0a1.75 1.75 0 1 0 -3.50 0M235.9 305.8a1.75 1.75 0 1 0 3.50 0a1.75 1.75 0 1 0 -3.50 0M237.8 308.5a1.75 1.75 0 1 0 3.50 0a1.75 1.75 0 1 0 -3.50 0M239.2 303.4a1.75 1.75 0 1 0 3.50 0a1.75 1.75 0 1 0 -3.50 0M240.4 313.6a1.75 1.75 0 1 0 3.50 0a1.75 1.75 0 1 0 -3.50 0M219.1 311.6a1.75 1.75 0 1 0 3.50 0a1.75 1.75 0 1 0 -3.50 0M222.4 314.5a1.75 1.75 0 1 0 3.50 0a1.75 1.75 0 1 0 -3.50 0M225.3 316.6a1.75 1.75 0 1 0 3.50 0a1.75 1.75 0 1 0 -3.50 0M228.9 314.8a1.75 1.75 0 1 0 3.50 0a1.75 1.75 0 1 0 -3.50 0M215.4 313.6a1.75 1.75 0 1 0 3.50 0a1.75 1.75 0 1 0 -3.50 0M213.1 320.8a1.75 1.75 0 1 0 3.50 0a1.75 1.75 0 1 0 -3.50 0M205.2 320.8a1.75 1.75 0 1 0 3.50 0a1.75 1.75 0 1 0 -3.50 0M199.8 324.1a1.75 1.75 0 1 0 3.50 0a1.75 1.75 0 1 0 -3.50 0"/>
<polygon fill="#000" points="140.0,129.0 146.0,125.5 152.0,124.5 157.4,125.0 158.3,126.5 160.7,131.5 161.6,138.0 161.6,160.0 160.5,176.5 158.5,186.5 156.0,200.0 153.5,210.0 151.0,216.0 148.5,221.0 145.0,226.0 141.0,230.5 136.0,233.5 131.0,235.0 130.0,228.0 129.0,222.0 130.0,210.0 131.0,190.0 132.0,170.0 133.0,150.0 135.0,135.0 137.0,126.0"/>
<path fill="#000" d="M128.9 162.1a1.75 1.75 0 1 0 3.50 0a1.75 1.75 0 1 0 -3.50 0M120.6 138.8a1.75 1.75 0 1 0 3.50 0a1.75 1.75 0 1 0 -3.50 0M122.6 158.9a1.75 1.75 0 1 0 3.50 0a1.75 1.75 0 1 0 -3.50 0M128.9 136.5a1.75 1.75 0 1 0 3.50 0a1.75 1.75 0 1 0 -3.50 0M128.2 138.6a1.75 1.75 0 1 0 3.50 0a1.75 1.75 0 1 0 -3.50 0M146.4 123.9a1.75 1.75 0 1 0 3.50 0a1.75 1.75 0 1 0 -3.50 0M127.4 227.6a1.75 1.75 0 1 0 3.50 0a1.75 1.75 0 1 0 -3.50 0M124.1 172.8a1.75 1.75 0 1 0 3.50 0a1.75 1.75 0 1 0 -3.50 0M127.5 128.9a1.75 1.75 0 1 0 3.50 0a1.75 1.75 0 1 0 -3.50 0M129.3 168.8a1.75 1.75 0 1 0 3.50 0a1.75 1.75 0 1 0 -3.50 0M124.7 153.0a1.75 1.75 0 1 0 3.50 0a1.75 1.75 0 1 0 -3.50 0M125.2 177.7a1.75 1.75 0 1 0 3.50 0a1.75 1.75 0 1 0 -3.50 0M129.0 145.2a1.75 1.75 0 1 0 3.50 0a1.75 1.75 0 1 0 -3.50 0M122.3 155.1a1.75 1.75 0 1 0 3.50 0a1.75 1.75 0 1 0 -3.50 0M126.0 171.5a1.75 1.75 0 1 0 3.50 0a1.75 1.75 0 1 0 -3.50 0M125.7 209.2a1.75 1.75 0 1 0 3.50 0a1.75 1.75 0 1 0 -3.50 0M121.5 132.3a1.75 1.75 0 1 0 3.50 0a1.75 1.75 0 1 0 -3.50 0M129.6 145.7a1.75 1.75 0 1 0 3.50 0a1.75 1.75 0 1 0 -3.50 0M126.7 129.9a1.75 1.75 0 1 0 3.50 0a1.75 1.75 0 1 0 -3.50 0M138.8 124.2a1.75 1.75 0 1 0 3.50 0a1.75 1.75 0 1 0 -3.50 0M126.0 216.1a1.75 1.75 0 1 0 3.50 0a1.75 1.75 0 1 0 -3.50 0M123.3 202.9a1.75 1.75 0 1 0 3.50 0a1.75 1.75 0 1 0 -3.50 0M140.6 124.8a1.75 1.75 0 1 0 3.50 0a1.75 1.75 0 1 0 -3.50 0M125.8 134.1a1.75 1.75 0 1 0 3.50 0a1.75 1.75 0 1 0 -3.50 0M119.5 133.4a1.75 1.75 0 1 0 3.50 0a1.75 1.75 0 1 0 -3.50 0M119.0 189.9a1.75 1.75 0 1 0 3.50 0a1.75 1.75 0 1 0 -3.50 0M120.1 136.3a1.75 1.75 0 1 0 3.50 0a1.75 1.75 0 1 0 -3.50 0M129.9 136.2a1.75 1.75 0 1 0 3.50 0a1.75 1.75 0 1 0 -3.50 0M124.4 186.9a1.75 1.75 0 1 0 3.50 0a1.75 1.75 0 1 0 -3.50 0M128.2 160.2a1.75 1.75 0 1 0 3.50 0a1.75 1.75 0 1 0 -3.50 0M120.5 180.7a1.75 1.75 0 1 0 3.50 0a1.75 1.75 0 1 0 -3.50 0M128.6 170.0a1.75 1.75 0 1 0 3.50 0a1.75 1.75 0 1 0 -3.50 0M123.3 189.4a1.75 1.75 0 1 0 3.50 0a1.75 1.75 0 1 0 -3.50 0M129.4 175.0a1.75 1.75 0 1 0 3.50 0a1.75 1.75 0 1 0 -3.50 0M123.4 137.3a1.75 1.75 0 1 0 3.50 0a1.75 1.75 0 1 0 -3.50 0M130.2 149.9a1.75 1.75 0 1 0 3.50 0a1.75 1.75 0 1 0 -3.50 0M121.9 184.0a1.75 1.75 0 1 0 3.50 0a1.75 1.75 0 1 0 -3.50 0M126.6 202.4a1.75 1.75 0 1 0 3.50 0a1.75 1.75 0 1 0 -3.50 0M131.2 149.8a1.75 1.75 0 1 0 3.50 0a1.75 1.75 0 1 0 -3.50 0M127.5 180.2a1.75 1.75 0 1 0 3.50 0a1.75 1.75 0 1 0 -3.50 0M124.8 130.0a1.75 1.75 0 1 0 3.50 0a1.75 1.75 0 1 0 -3.50 0M120.8 166.1a1.75 1.75 0 1 0 3.50 0a1.75 1.75 0 1 0 -3.50 0M122.8 147.8a1.75 1.75 0 1 0 3.50 0a1.75 1.75 0 1 0 -3.50 0M124.7 160.4a1.75 1.75 0 1 0 3.50 0a1.75 1.75 0 1 0 -3.50 0M125.9 156.7a1.75 1.75 0 1 0 3.50 0a1.75 1.75 0 1 0 -3.50 0M124.3 187.2a1.75 1.75 0 1 0 3.50 0a1.75 1.75 0 1 0 -3.50 0M122.4 164.6a1.75 1.75 0 1 0 3.50 0a1.75 1.75 0 1 0 -3.50 0M125.4 158.3a1.75 1.75 0 1 0 3.50 0a1.75 1.75 0 1 0 -3.50 0M124.8 155.1a1.75 1.75 0 1 0 3.50 0a1.75 1.75 0 1 0 -3.50 0M126.1 143.0a1.75 1.75 0 1 0 3.50 0a1.75 1.75 0 1 0 -3.50 0M123.3 140.1a1.75 1.75 0 1 0 3.50 0a1.75 1.75 0 1 0 -3.50 0M122.4 141.7a1.75 1.75 0 1 0 3.50 0a1.75 1.75 0 1 0 -3.50 0M120.8 123.9a1.75 1.75 0 1 0 3.50 0a1.75 1.75 0 1 0 -3.50 0M125.3 152.5a1.75 1.75 0 1 0 3.50 0a1.75 1.75 0 1 0 -3.50 0M128.6 127.4a1.75 1.75 0 1 0 3.50 0a1.75 1.75 0 1 0 -3.50 0M128.4 166.4a1.75 1.75 0 1 0 3.50 0a1.75 1.75 0 1 0 -3.50 0M128.4 142.0a1.75 1.75 0 1 0 3.50 0a1.75 1.75 0 1 0 -3.50 0M123.4 215.4a1.75 1.75 0 1 0 3.50 0a1.75 1.75 0 1 0 -3.50 0M126.2 154.4a1.75 1.75 0 1 0 3.50 0a1.75 1.75 0 1 0 -3.50 0M128.1 126.4a1.75 1.75 0 1 0 3.50 0a1.75 1.75 0 1 0 -3.50 0M124.7 201.9a1.75 1.75 0 1 0 3.50 0a1.75 1.75 0 1 0 -3.50 0M122.1 152.8a1.75 1.75 0 1 0 3.50 0a1.75 1.75 0 1 0 -3.50 0M126.9 229.5a1.75 1.75 0 1 0 3.50 0a1.75 1.75 0 1 0 -3.50 0M125.6 218.2a1.75 1.75 0 1 0 3.50 0a1.75 1.75 0 1 0 -3.50 0M122.8 185.7a1.75 1.75 0 1 0 3.50 0a1.75 1.75 0 1 0 -3.50 0M130.6 129.9a1.75 1.75 0 1 0 3.50 0a1.75 1.75 0 1 0 -3.50 0M131.2 148.0a1.75 1.75 0 1 0 3.50 0a1.75 1.75 0 1 0 -3.50 0M123.5 203.1a1.75 1.75 0 1 0 3.50 0a1.75 1.75 0 1 0 -3.50 0M130.0 167.9a1.75 1.75 0 1 0 3.50 0a1.75 1.75 0 1 0 -3.50 0M123.7 153.6a1.75 1.75 0 1 0 3.50 0a1.75 1.75 0 1 0 -3.50 0M119.5 199.0a1.75 1.75 0 1 0 3.50 0a1.75 1.75 0 1 0 -3.50 0M119.9 127.0a1.75 1.75 0 1 0 3.50 0a1.75 1.75 0 1 0 -3.50 0M125.0 144.8a1.75 1.75 0 1 0 3.50 0a1.75 1.75 0 1 0 -3.50 0M130.2 127.3a1.75 1.75 0 1 0 3.50 0a1.75 1.75 0 1 0 -3.50 0M120.2 150.0a1.75 1.75 0 1 0 3.50 0a1.75 1.75 0 1 0 -3.50 0M122.9 211.5a1.75 1.75 0 1 0 3.50 0a1.75 1.75 0 1 0 -3.50 0M127.0 225.4a1.75 1.75 0 1 0 3.50 0a1.75 1.75 0 1 0 -3.50 0M129.9 132.6a1.75 1.75 0 1 0 3.50 0a1.75 1.75 0 1 0 -3.50 0M120.5 201.1a1.75 1.75 0 1 0 3.50 0a1.75 1.75 0 1 0 -3.50 0M129.1 184.0a1.75 1.75 0 1 0 3.50 0a1.75 1.75 0 1 0 -3.50 0M131.2 137.9a1.75 1.75 0 1 0 3.50 0a1.75 1.75 0 1 0 -3.50 0M128.1 149.7a1.75 1.75 0 1 0 3.50 0a1.75 1.75 0 1 0 -3.50 0M124.2 185.9a1.75 1.75 0 1 0 3.50 0a1.75 1.75 0 1 0 -3.50 0M125.3 197.5a1.75 1.75 0 1 0 3.50 0a1.75 1.75 0 1 0 -3.50 0M123.0 155.1a1.75 1.75 0 1 0 3.50 0a1.75 1.75 0 1 0 -3.50 0M120.8 154.1a1.75 1.75 0 1 0 3.50 0a1.75 1.75 0 1 0 -3.50 0M126.4 201.4a1.75 1.75 0 1 0 3.50 0a1.75 1.75 0 1 0 -3.50 0M121.7 203.2a1.75 1.75 0 1 0 3.50 0a1.75 1.75 0 1 0 -3.50 0M122.8 177.5a1.75 1.75 0 1 0 3.50 0a1.75 1.75 0 1 0 -3.50 0M140.8 123.4a1.75 1.75 0 1 0 3.50 0a1.75 1.75 0 1 0 -3.50 0M128.5 138.1a1.75 1.75 0 1 0 3.50 0a1.75 1.75 0 1 0 -3.50 0M126.0 194.3a1.75 1.75 0 1 0 3.50 0a1.75 1.75 0 1 0 -3.50 0M125.3 210.8a1.75 1.75 0 1 0 3.50 0a1.75 1.75 0 1 0 -3.50 0M131.8 143.3a1.75 1.75 0 1 0 3.50 0a1.75 1.75 0 1 0 -3.50 0M128.2 127.1a1.75 1.75 0 1 0 3.50 0a1.75 1.75 0 1 0 -3.50 0M124.8 156.2a1.75 1.75 0 1 0 3.50 0a1.75 1.75 0 1 0 -3.50 0M122.0 127.0a1.75 1.75 0 1 0 3.50 0a1.75 1.75 0 1 0 -3.50 0M148.3 122.8a1.75 1.75 0 1 0 3.50 0a1.75 1.75 0 1 0 -3.50 0M126.4 132.1a1.75 1.75 0 1 0 3.50 0a1.75 1.75 0 1 0 -3.50 0M121.8 196.8a1.75 1.75 0 1 0 3.50 0a1.75 1.75 0 1 0 -3.50 0M123.0 142.8a1.75 1.75 0 1 0 3.50 0a1.75 1.75 0 1 0 -3.50 0M128.8 133.2a1.75 1.75 0 1 0 3.50 0a1.75 1.75 0 1 0 -3.50 0M127.7 186.9a1.75 1.75 0 1 0 3.50 0a1.75 1.75 0 1 0 -3.50 0M123.0 180.2a1.75 1.75 0 1 0 3.50 0a1.75 1.75 0 1 0 -3.50 0M128.1 164.4a1.75 1.75 0 1 0 3.50 0a1.75 1.75 0 1 0 -3.50 0M118.9 189.4a1.75 1.75 0 1 0 3.50 0a1.75 1.75 0 1 0 -3.50 0M127.1 156.2a1.75 1.75 0 1 0 3.50 0a1.75 1.75 0 1 0 -3.50 0M125.2 206.4a1.75 1.75 0 1 0 3.50 0a1.75 1.75 0 1 0 -3.50 0M123.4 164.5a1.75 1.75 0 1 0 3.50 0a1.75 1.75 0 1 0 -3.50 0M126.3 172.8a1.75 1.75 0 1 0 3.50 0a1.75 1.75 0 1 0 -3.50 0M123.0 124.9a1.75 1.75 0 1 0 3.50 0a1.75 1.75 0 1 0 -3.50 0M122.8 212.6a1.75 1.75 0 1 0 3.50 0a1.75 1.75 0 1 0 -3.50 0M126.0 184.9a1.75 1.75 0 1 0 3.50 0a1.75 1.75 0 1 0 -3.50 0M132.5 139.5a1.75 1.75 0 1 0 3.50 0a1.75 1.75 0 1 0 -3.50 0M125.8 214.6a1.75 1.75 0 1 0 3.50 0a1.75 1.75 0 1 0 -3.50 0M127.2 223.1a1.75 1.75 0 1 0 3.50 0a1.75 1.75 0 1 0 -3.50 0M125.3 163.1a1.75 1.75 0 1 0 3.50 0a1.75 1.75 0 1 0 -3.50 0M132.1 124.8a1.75 1.75 0 1 0 3.50 0a1.75 1.75 0 1 0 -3.50 0M129.6 178.8a1.75 1.75 0 1 0 3.50 0a1.75 1.75 0 1 0 -3.50 0M129.2 186.5a1.75 1.75 0 1 0 3.50 0a1.75 1.75 0 1 0 -3.50 0M128.4 148.9a1.75 1.75 0 1 0 3.50 0a1.75 1.75 0 1 0 -3.50 0M132.8 137.8a1.75 1.75 0 1 0 3.50 0a1.75 1.75 0 1 0 -3.50 0M125.3 130.0a1.75 1.75 0 1 0 3.50 0a1.75 1.75 0 1 0 -3.50 0M130.8 157.2a1.75 1.75 0 1 0 3.50 0a1.75 1.75 0 1 0 -3.50 0M121.6 142.6a1.75 1.75 0 1 0 3.50 0a1.75 1.75 0 1 0 -3.50 0M121.1 177.0a1.75 1.75 0 1 0 3.50 0a1.75 1.75 0 1 0 -3.50 0M129.0 125.1a1.75 1.75 0 1 0 3.50 0a1.75 1.75 0 1 0 -3.50 0M125.1 152.7a1.75 1.75 0 1 0 3.50 0a1.75 1.75 0 1 0 -3.50 0M132.4 137.9a1.75 1.75 0 1 0 3.50 0a1.75 1.75 0 1 0 -3.50 0M126.1 182.9a1.75 1.75 0 1 0 3.50 0a1.75 1.75 0 1 0 -3.50 0M120.6 169.1a1.75 1.75 0 1 0 3.50 0a1.75 1.75 0 1 0 -3.50 0M120.1 193.0a1.75 1.75 0 1 0 3.50 0a1.75 1.75 0 1 0 -3.50 0M137.5 124.0a1.75 1.75 0 1 0 3.50 0a1.75 1.75 0 1 0 -3.50 0M131.9 133.0a1.75 1.75 0 1 0 3.50 0a1.75 1.75 0 1 0 -3.50 0M124.7 138.5a1.75 1.75 0 1 0 3.50 0a1.75 1.75 0 1 0 -3.50 0M123.7 123.5a1.75 1.75 0 1 0 3.50 0a1.75 1.75 0 1 0 -3.50 0M120.8 179.0a1.75 1.75 0 1 0 3.50 0a1.75 1.75 0 1 0 -3.50 0M124.5 142.5a1.75 1.75 0 1 0 3.50 0a1.75 1.75 0 1 0 -3.50 0M125.0 125.8a1.75 1.75 0 1 0 3.50 0a1.75 1.75 0 1 0 -3.50 0M122.7 205.0a1.75 1.75 0 1 0 3.50 0a1.75 1.75 0 1 0 -3.50 0M121.0 195.1a1.75 1.75 0 1 0 3.50 0a1.75 1.75 0 1 0 -3.50 0M120.7 186.0a1.75 1.75 0 1 0 3.50 0a1.75 1.75 0 1 0 -3.50 0M127.6 150.8a1.75 1.75 0 1 0 3.50 0a1.75 1.75 0 1 0 -3.50 0M129.2 171.3a1.75 1.75 0 1 0 3.50 0a1.75 1.75 0 1 0 -3.50 0M127.9 145.4a1.75 1.75 0 1 0 3.50 0a1.75 1.75 0 1 0 -3.50 0M127.3 186.6a1.75 1.75 0 1 0 3.50 0a1.75 1.75 0 1 0 -3.50 0M130.0 159.8a1.75 1.75 0 1 0 3.50 0a1.75 1.75 0 1 0 -3.50 0M125.0 199.3a1.75 1.75 0 1 0 3.50 0a1.75 1.75 0 1 0 -3.50 0M127.0 221.9a1.75 1.75 0 1 0 3.50 0a1.75 1.75 0 1 0 -3.50 0M130.6 125.2a1.75 1.75 0 1 0 3.50 0a1.75 1.75 0 1 0 -3.50 0M124.5 205.3a1.75 1.75 0 1 0 3.50 0a1.75 1.75 0 1 0 -3.50 0M122.3 141.5a1.75 1.75 0 1 0 3.50 0a1.75 1.75 0 1 0 -3.50 0M128.0 211.6a1.75 1.75 0 1 0 3.50 0a1.75 1.75 0 1 0 -3.50 0M123.3 177.3a1.75 1.75 0 1 0 3.50 0a1.75 1.75 0 1 0 -3.50 0M123.9 170.7a1.75 1.75 0 1 0 3.50 0a1.75 1.75 0 1 0 -3.50 0M125.7 199.6a1.75 1.75 0 1 0 3.50 0a1.75 1.75 0 1 0 -3.50 0M124.4 205.5a1.75 1.75 0 1 0 3.50 0a1.75 1.75 0 1 0 -3.50 0M129.6 142.4a1.75 1.75 0 1 0 3.50 0a1.75 1.75 0 1 0 -3.50 0M129.3 130.3a1.75 1.75 0 1 0 3.50 0a1.75 1.75 0 1 0 -3.50 0M120.0 179.7a1.75 1.75 0 1 0 3.50 0a1.75 1.75 0 1 0 -3.50 0M133.3 123.7a1.75 1.75 0 1 0 3.50 0a1.75 1.75 0 1 0 -3.50 0M128.8 191.2a1.75 1.75 0 1 0 3.50 0a1.75 1.75 0 1 0 -3.50 0M126.5 135.6a1.75 1.75 0 1 0 3.50 0a1.75 1.75 0 1 0 -3.50 0M128.0 193.3a1.75 1.75 0 1 0 3.50 0a1.75 1.75 0 1 0 -3.50 0M127.5 191.4a1.75 1.75 0 1 0 3.50 0a1.75 1.75 0 1 0 -3.50 0M127.5 138.5a1.75 1.75 0 1 0 3.50 0a1.75 1.75 0 1 0 -3.50 0M125.4 215.0a1.75 1.75 0 1 0 3.50 0a1.75 1.75 0 1 0 -3.50 0M124.6 150.8a1.75 1.75 0 1 0 3.50 0a1.75 1.75 0 1 0 -3.50 0M122.5 162.6a1.75 1.75 0 1 0 3.50 0a1.75 1.75 0 1 0 -3.50 0M134.1 124.5a1.75 1.75 0 1 0 3.50 0a1.75 1.75 0 1 0 -3.50 0M126.6 186.7a1.75 1.75 0 1 0 3.50 0a1.75 1.75 0 1 0 -3.50 0M120.7 142.6a1.75 1.75 0 1 0 3.50 0a1.75 1.75 0 1 0 -3.50 0M126.6 170.1a1.75 1.75 0 1 0 3.50 0a1.75 1.75 0 1 0 -3.50 0M133.7 127.4a1.75 1.75 0 1 0 3.50 0a1.75 1.75 0 1 0 -3.50 0M132.0 130.5a1.75 1.75 0 1 0 3.50 0a1.75 1.75 0 1 0 -3.50 0M119.3 189.2a1.75 1.75 0 1 0 3.50 0a1.75 1.75 0 1 0 -3.50 0M135.0 127.1a1.75 1.75 0 1 0 3.50 0a1.75 1.75 0 1 0 -3.50 0M123.2 147.3a1.75 1.75 0 1 0 3.50 0a1.75 1.75 0 1 0 -3.50 0M122.5 132.4a1.75 1.75 0 1 0 3.50 0a1.75 1.75 0 1 0 -3.50 0M120.5 199.1a1.75 1.75 0 1 0 3.50 0a1.75 1.75 0 1 0 -3.50 0M120.5 200.2a1.75 1.75 0 1 0 3.50 0a1.75 1.75 0 1 0 -3.50 0M129.7 152.0a1.75 1.75 0 1 0 3.50 0a1.75 1.75 0 1 0 -3.50 0M120.4 156.8a1.75 1.75 0 1 0 3.50 0a1.75 1.75 0 1 0 -3.50 0M126.7 128.4a1.75 1.75 0 1 0 3.50 0a1.75 1.75 0 1 0 -3.50 0M120.4 157.9a1.75 1.75 0 1 0 3.50 0a1.75 1.75 0 1 0 -3.50 0M120.7 171.3a1.75 1.75 0 1 0 3.50 0a1.75 1.75 0 1 0 -3.50 0M130.5 146.2a1.75 1.75 0 1 0 3.50 0a1.75 1.75 0 1 0 -3.50 0M122.4 133.2a1.75 1.75 0 1 0 3.50 0a1.75 1.75 0 1 0 -3.50 0M120.6 200.8a1.75 1.75 0 1 0 3.50 0a1.75 1.75 0 1 0 -3.50 0M130.5 148.7a1.75 1.75 0 1 0 3.50 0a1.75 1.75 0 1 0 -3.50 0M134.5 126.2a1.75 1.75 0 1 0 3.50 0a1.75 1.75 0 1 0 -3.50 0M127.5 183.9a1.75 1.75 0 1 0 3.50 0a1.75 1.75 0 1 0 -3.50 0M122.1 174.8a1.75 1.75 0 1 0 3.50 0a1.75 1.75 0 1 0 -3.50 0M130.3 161.6a1.75 1.75 0 1 0 3.50 0a1.75 1.75 0 1 0 -3.50 0M121.9 138.2a1.75 1.75 0 1 0 3.50 0a1.75 1.75 0 1 0 -3.50 0M125.7 211.1a1.75 1.75 0 1 0 3.50 0a1.75 1.75 0 1 0 -3.50 0M130.7 130.3a1.75 1.75 0 1 0 3.50 0a1.75 1.75 0 1 0 -3.50 0M119.7 180.3a1.75 1.75 0 1 0 3.50 0a1.75 1.75 0 1 0 -3.50 0M122.3 195.3a1.75 1.75 0 1 0 3.50 0a1.75 1.75 0 1 0 -3.50 0M123.7 187.5a1.75 1.75 0 1 0 3.50 0a1.75 1.75 0 1 0 -3.50 0M124.4 133.1a1.75 1.75 0 1 0 3.50 0a1.75 1.75 0 1 0 -3.50 0M123.1 175.1a1.75 1.75 0 1 0 3.50 0a1.75 1.75 0 1 0 -3.50 0M125.1 182.7a1.75 1.75 0 1 0 3.50 0a1.75 1.75 0 1 0 -3.50 0M126.5 167.9a1.75 1.75 0 1 0 3.50 0a1.75 1.75 0 1 0 -3.50 0M126.7 136.8a1.75 1.75 0 1 0 3.50 0a1.75 1.75 0 1 0 -3.50 0M127.8 206.9a1.75 1.75 0 1 0 3.50 0a1.75 1.75 0 1 0 -3.50 0M124.6 152.2a1.75 1.75 0 1 0 3.50 0a1.75 1.75 0 1 0 -3.50 0M128.5 189.9a1.75 1.75 0 1 0 3.50 0a1.75 1.75 0 1 0 -3.50 0M128.4 205.0a1.75 1.75 0 1 0 3.50 0a1.75 1.75 0 1 0 -3.50 0M132.6 138.3a1.75 1.75 0 1 0 3.50 0a1.75 1.75 0 1 0 -3.50 0M126.5 147.2a1.75 1.75 0 1 0 3.50 0a1.75 1.75 0 1 0 -3.50 0M126.5 192.8a1.75 1.75 0 1 0 3.50 0a1.75 1.75 0 1 0 -3.50 0M122.1 203.2a1.75 1.75 0 1 0 3.50 0a1.75 1.75 0 1 0 -3.50 0M127.9 144.8a1.75 1.75 0 1 0 3.50 0a1.75 1.75 0 1 0 -3.50 0M118.9 134.9a1.75 1.75 0 1 0 3.50 0a1.75 1.75 0 1 0 -3.50 0M121.9 153.0a1.75 1.75 0 1 0 3.50 0a1.75 1.75 0 1 0 -3.50 0M123.3 199.3a1.75 1.75 0 1 0 3.50 0a1.75 1.75 0 1 0 -3.50 0M125.9 153.0a1.75 1.75 0 1 0 3.50 0a1.75 1.75 0 1 0 -3.50 0M140.2 122.5a1.75 1.75 0 1 0 3.50 0a1.75 1.75 0 1 0 -3.50 0M128.7 162.1a1.75 1.75 0 1 0 3.50 0a1.75 1.75 0 1 0 -3.50 0M122.4 184.7a1.75 1.75 0 1 0 3.50 0a1.75 1.75 0 1 0 -3.50 0M121.4 192.7a1.75 1.75 0 1 0 3.50 0a1.75 1.75 0 1 0 -3.50 0M131.8 137.9a1.75 1.75 0 1 0 3.50 0a1.75 1.75 0 1 0 -3.50 0M124.3 188.6a1.75 1.75 0 1 0 3.50 0a1.75 1.75 0 1 0 -3.50 0M129.8 140.7a1.75 1.75 0 1 0 3.50 0a1.75 1.75 0 1 0 -3.50 0M124.1 180.5a1.75 1.75 0 1 0 3.50 0a1.75 1.75 0 1 0 -3.50 0M131.2 128.5a1.75 1.75 0 1 0 3.50 0a1.75 1.75 0 1 0 -3.50 0M126.0 157.3a1.75 1.75 0 1 0 3.50 0a1.75 1.75 0 1 0 -3.50 0M122.8 151.8a1.75 1.75 0 1 0 3.50 0a1.75 1.75 0 1 0 -3.50 0M126.7 224.7a1.75 1.75 0 1 0 3.50 0a1.75 1.75 0 1 0 -3.50 0M131.3 139.6a1.75 1.75 0 1 0 3.50 0a1.75 1.75 0 1 0 -3.50 0M129.3 149.9a1.75 1.75 0 1 0 3.50 0a1.75 1.75 0 1 0 -3.50 0M121.2 184.2a1.75 1.75 0 1 0 3.50 0a1.75 1.75 0 1 0 -3.50 0M122.9 157.0a1.75 1.75 0 1 0 3.50 0a1.75 1.75 0 1 0 -3.50 0M126.0 220.6a1.75 1.75 0 1 0 3.50 0a1.75 1.75 0 1 0 -3.50 0M123.8 160.6a1.75 1.75 0 1 0 3.50 0a1.75 1.75 0 1 0 -3.50 0M121.0 169.0a1.75 1.75 0 1 0 3.50 0a1.75 1.75 0 1 0 -3.50 0M124.5 198.0a1.75 1.75 0 1 0 3.50 0a1.75 1.75 0 1 0 -3.50 0M123.7 201.7a1.75 1.75 0 1 0 3.50 0a1.75 1.75 0 1 0 -3.50 0M129.7 130.1a1.75 1.75 0 1 0 3.50 0a1.75 1.75 0 1 0 -3.50 0M129.6 146.5a1.75 1.75 0 1 0 3.50 0a1.75 1.75 0 1 0 -3.50 0M127.6 133.1a1.75 1.75 0 1 0 3.50 0a1.75 1.75 0 1 0 -3.50 0M118.4 193.3a1.75 1.75 0 1 0 3.50 0a1.75 1.75 0 1 0 -3.50 0M124.0 153.4a1.75 1.75 0 1 0 3.50 0a1.75 1.75 0 1 0 -3.50 0M120.7 172.6a1.75 1.75 0 1 0 3.50 0a1.75 1.75 0 1 0 -3.50 0M122.8 147.8a1.75 1.75 0 1 0 3.50 0a1.75 1.75 0 1 0 -3.50 0M127.3 211.8a1.75 1.75 0 1 0 3.50 0a1.75 1.75 0 1 0 -3.50 0M126.9 216.9a1.75 1.75 0 1 0 3.50 0a1.75 1.75 0 1 0 -3.50 0M119.4 179.3a1.75 1.75 0 1 0 3.50 0a1.75 1.75 0 1 0 -3.50 0M126.3 205.3a1.75 1.75 0 1 0 3.50 0a1.75 1.75 0 1 0 -3.50 0M126.5 201.7a1.75 1.75 0 1 0 3.50 0a1.75 1.75 0 1 0 -3.50 0M126.4 152.4a1.75 1.75 0 1 0 3.50 0a1.75 1.75 0 1 0 -3.50 0M120.9 145.6a1.75 1.75 0 1 0 3.50 0a1.75 1.75 0 1 0 -3.50 0M129.2 162.5a1.75 1.75 0 1 0 3.50 0a1.75 1.75 0 1 0 -3.50 0M125.1 193.6a1.75 1.75 0 1 0 3.50 0a1.75 1.75 0 1 0 -3.50 0M122.5 134.5a1.75 1.75 0 1 0 3.50 0a1.75 1.75 0 1 0 -3.50 0M124.7 210.0a1.75 1.75 0 1 0 3.50 0a1.75 1.75 0 1 0 -3.50 0M123.6 134.7a1.75 1.75 0 1 0 3.50 0a1.75 1.75 0 1 0 -3.50 0M127.0 150.8a1.75 1.75 0 1 0 3.50 0a1.75 1.75 0 1 0 -3.50 0M123.8 123.9a1.75 1.75 0 1 0 3.50 0a1.75 1.75 0 1 0 -3.50 0M127.2 188.4a1.75 1.75 0 1 0 3.50 0a1.75 1.75 0 1 0 -3.50 0M134.0 123.5a1.75 1.75 0 1 0 3.50 0a1.75 1.75 0 1 0 -3.50 0M137.5 127.4a1.75 1.75 0 1 0 3.50 0a1.75 1.75 0 1 0 -3.50 0M121.2 158.9a1.75 1.75 0 1 0 3.50 0a1.75 1.75 0 1 0 -3.50 0M126.8 149.9a1.75 1.75 0 1 0 3.50 0a1.75 1.75 0 1 0 -3.50 0M122.6 189.0a1.75 1.75 0 1 0 3.50 0a1.75 1.75 0 1 0 -3.50 0M123.5 145.0a1.75 1.75 0 1 0 3.50 0a1.75 1.75 0 1 0 -3.50 0M128.2 195.6a1.75 1.75 0 1 0 3.50 0a1.75 1.75 0 1 0 -3.50 0M127.8 166.6a1.75 1.75 0 1 0 3.50 0a1.75 1.75 0 1 0 -3.50 0M119.8 133.1a1.75 1.75 0 1 0 3.50 0a1.75 1.75 0 1 0 -3.50 0M119.8 128.0a1.75 1.75 0 1 0 3.50 0a1.75 1.75 0 1 0 -3.50 0M127.4 198.1a1.75 1.75 0 1 0 3.50 0a1.75 1.75 0 1 0 -3.50 0M124.6 124.5a1.75 1.75 0 1 0 3.50 0a1.75 1.75 0 1 0 -3.50 0M126.0 213.3a1.75 1.75 0 1 0 3.50 0a1.75 1.75 0 1 0 -3.50 0M125.0 180.1a1.75 1.75 0 1 0 3.50 0a1.75 1.75 0 1 0 -3.50 0M122.7 211.0a1.75 1.75 0 1 0 3.50 0a1.75 1.75 0 1 0 -3.50 0M121.5 128.6a1.75 1.75 0 1 0 3.50 0a1.75 1.75 0 1 0 -3.50 0M134.8 123.4a1.75 1.75 0 1 0 3.50 0a1.75 1.75 0 1 0 -3.50 0M132.9 133.1a1.75 1.75 0 1 0 3.50 0a1.75 1.75 0 1 0 -3.50 0M150.2 123.3a1.75 1.75 0 1 0 3.50 0a1.75 1.75 0 1 0 -3.50 0M121.4 135.3a1.75 1.75 0 1 0 3.50 0a1.75 1.75 0 1 0 -3.50 0M125.7 228.6a1.75 1.75 0 1 0 3.50 0a1.75 1.75 0 1 0 -3.50 0M128.8 156.3a1.75 1.75 0 1 0 3.50 0a1.75 1.75 0 1 0 -3.50 0M122.2 172.3a1.75 1.75 0 1 0 3.50 0a1.75 1.75 0 1 0 -3.50 0M128.6 168.9a1.75 1.75 0 1 0 3.50 0a1.75 1.75 0 1 0 -3.50 0M119.1 148.5a1.75 1.75 0 1 0 3.50 0a1.75 1.75 0 1 0 -3.50 0M122.0 146.4a1.75 1.75 0 1 0 3.50 0a1.75 1.75 0 1 0 -3.50 0M118.8 151.8a1.75 1.75 0 1 0 3.50 0a1.75 1.75 0 1 0 -3.50 0M125.6 171.8a1.75 1.75 0 1 0 3.50 0a1.75 1.75 0 1 0 -3.50 0M128.6 151.4a1.75 1.75 0 1 0 3.50 0a1.75 1.75 0 1 0 -3.50 0M119.4 200.3a1.75 1.75 0 1 0 3.50 0a1.75 1.75 0 1 0 -3.50 0M127.0 151.7a1.75 1.75 0 1 0 3.50 0a1.75 1.75 0 1 0 -3.50 0M130.9 129.7a1.75 1.75 0 1 0 3.50 0a1.75 1.75 0 1 0 -3.50 0M121.0 124.1a1.75 1.75 0 1 0 3.50 0a1.75 1.75 0 1 0 -3.50 0M122.9 178.0a1.75 1.75 0 1 0 3.50 0a1.75 1.75 0 1 0 -3.50 0M125.7 133.8a1.75 1.75 0 1 0 3.50 0a1.75 1.75 0 1 0 -3.50 0M124.2 133.4a1.75 1.75 0 1 0 3.50 0a1.75 1.75 0 1 0 -3.50 0M127.5 129.8a1.75 1.75 0 1 0 3.50 0a1.75 1.75 0 1 0 -3.50 0M124.0 211.1a1.75 1.75 0 1 0 3.50 0a1.75 1.75 0 1 0 -3.50 0M128.7 163.7a1.75 1.75 0 1 0 3.50 0a1.75 1.75 0 1 0 -3.50 0M130.1 165.3a1.75 1.75 0 1 0 3.50 0a1.75 1.75 0 1 0 -3.50 0M126.3 147.1a1.75 1.75 0 1 0 3.50 0a1.75 1.75 0 1 0 -3.50 0M128.0 125.8a1.75 1.75 0 1 0 3.50 0a1.75 1.75 0 1 0 -3.50 0M122.1 135.7a1.75 1.75 0 1 0 3.50 0a1.75 1.75 0 1 0 -3.50 0M127.8 172.0a1.75 1.75 0 1 0 3.50 0a1.75 1.75 0 1 0 -3.50 0M123.2 130.1a1.75 1.75 0 1 0 3.50 0a1.75 1.75 0 1 0 -3.50 0M121.2 147.5a1.75 1.75 0 1 0 3.50 0a1.75 1.75 0 1 0 -3.50 0M128.2 141.7a1.75 1.75 0 1 0 3.50 0a1.75 1.75 0 1 0 -3.50 0M121.7 152.3a1.75 1.75 0 1 0 3.50 0a1.75 1.75 0 1 0 -3.50 0M126.8 197.1a1.75 1.75 0 1 0 3.50 0a1.75 1.75 0 1 0 -3.50 0M125.7 123.7a1.75 1.75 0 1 0 3.50 0a1.75 1.75 0 1 0 -3.50 0M119.3 175.4a1.75 1.75 0 1 0 3.50 0a1.75 1.75 0 1 0 -3.50 0M128.0 178.6a1.75 1.75 0 1 0 3.50 0a1.75 1.75 0 1 0 -3.50 0M124.3 212.9a1.75 1.75 0 1 0 3.50 0a1.75 1.75 0 1 0 -3.50 0M127.7 189.8a1.75 1.75 0 1 0 3.50 0a1.75 1.75 0 1 0 -3.50 0M127.3 126.5a1.75 1.75 0 1 0 3.50 0a1.75 1.75 0 1 0 -3.50 0M126.2 206.8a1.75 1.75 0 1 0 3.50 0a1.75 1.75 0 1 0 -3.50 0M127.9 176.2a1.75 1.75 0 1 0 3.50 0a1.75 1.75 0 1 0 -3.50 0M127.7 230.6a1.75 1.75 0 1 0 3.50 0a1.75 1.75 0 1 0 -3.50 0M125.0 215.7a1.75 1.75 0 1 0 3.50 0a1.75 1.75 0 1 0 -3.50 0M129.0 173.6a1.75 1.75 0 1 0 3.50 0a1.75 1.75 0 1 0 -3.50 0M124.0 149.5a1.75 1.75 0 1 0 3.50 0a1.75 1.75 0 1 0 -3.50 0M144.1 228.0a1.75 1.75 0 1 0 3.50 0a1.75 1.75 0 1 0 -3.50 0M137.5 234.2a1.75 1.75 0 1 0 3.50 0a1.75 1.75 0 1 0 -3.50 0M124.1 216.9a1.75 1.75 0 1 0 3.50 0a1.75 1.75 0 1 0 -3.50 0M122.6 215.1a1.75 1.75 0 1 0 3.50 0a1.75 1.75 0 1 0 -3.50 0M122.7 204.0a1.75 1.75 0 1 0 3.50 0a1.75 1.75 0 1 0 -3.50 0M117.6 194.0a1.75 1.75 0 1 0 3.50 0a1.75 1.75 0 1 0 -3.50 0M114.9 187.1a1.75 1.75 0 1 0 3.50 0a1.75 1.75 0 1 0 -3.50 0M124.1 182.6a1.75 1.75 0 1 0 3.50 0a1.75 1.75 0 1 0 -3.50 0M119.9 168.5a1.75 1.75 0 1 0 3.50 0a1.75 1.75 0 1 0 -3.50 0M121.2 160.5a1.75 1.75 0 1 0 3.50 0a1.75 1.75 0 1 0 -3.50 0M118.0 157.5a1.75 1.75 0 1 0 3.50 0a1.75 1.75 0 1 0 -3.50 0M118.8 147.2a1.75 1.75 0 1 0 3.50 0a1.75 1.75 0 1 0 -3.50 0M117.1 135.6a1.75 1.75 0 1 0 3.50 0a1.75 1.75 0 1 0 -3.50 0M120.6 130.4a1.75 1.75 0 1 0 3.50 0a1.75 1.75 0 1 0 -3.50 0M150.9 121.2a1.75 1.75 0 1 0 3.50 0a1.75 1.75 0 1 0 -3.50 0M143.6 116.2a1.75 1.75 0 1 0 3.50 0a1.75 1.75 0 1 0 -3.50 0M143.8 117.5a1.75 1.75 0 1 0 3.50 0a1.75 1.75 0 1 0 -3.50 0M149.1 122.8a1.75 1.75 0 1 0 3.50 0a1.75 1.75 0 1 0 -3.50 0M122.1 122.8a1.75 1.75 0 1 0 3.50 0a1.75 1.75 0 1 0 -3.50 0M140.5 110.6a1.75 1.75 0 1 0 3.50 0a1.75 1.75 0 1 0 -3.50 0M145.1 111.8a1.75 1.75 0 1 0 3.50 0a1.75 1.75 0 1 0 -3.50 0M128.1 113.7a1.75 1.75 0 1 0 3.50 0a1.75 1.75 0 1 0 -3.50 0M138.8 119.0a1.75 1.75 0 1 0 3.50 0a1.75 1.75 0 1 0 -3.50 0M122.0 120.1a1.75 1.75 0 1 0 3.50 0a1.75 1.75 0 1 0 -3.50 0M142.5 115.5a1.75 1.75 0 1 0 3.50 0a1.75 1.75 0 1 0 -3.50 0M144.3 121.1a1.75 1.75 0 1 0 3.50 0a1.75 1.75 0 1 0 -3.50 0M144.5 119.6a1.75 1.75 0 1 0 3.50 0a1.75 1.75 0 1 0 -3.50 0M143.4 110.6a1.75 1.75 0 1 0 3.50 0a1.75 1.75 0 1 0 -3.50 0M155.0 120.9a1.75 1.75 0 1 0 3.50 0a1.75 1.75 0 1 0 -3.50 0M127.9 114.8a1.75 1.75 0 1 0 3.50 0a1.75 1.75 0 1 0 -3.50 0M134.5 123.8a1.75 1.75 0 1 0 3.50 0a1.75 1.75 0 1 0 -3.50 0M152.8 111.5a1.75 1.75 0 1 0 3.50 0a1.75 1.75 0 1 0 -3.50 0M146.7 113.6a1.75 1.75 0 1 0 3.50 0a1.75 1.75 0 1 0 -3.50 0M144.0 120.5a1.75 1.75 0 1 0 3.50 0a1.75 1.75 0 1 0 -3.50 0M127.3 112.0a1.75 1.75 0 1 0 3.50 0a1.75 1.75 0 1 0 -3.50 0M134.4 114.7a1.75 1.75 0 1 0 3.50 0a1.75 1.75 0 1 0 -3.50 0M122.2 117.4a1.75 1.75 0 1 0 3.50 0a1.75 1.75 0 1 0 -3.50 0M154.4 117.3a1.75 1.75 0 1 0 3.50 0a1.75 1.75 0 1 0 -3.50 0M132.5 119.5a1.75 1.75 0 1 0 3.50 0a1.75 1.75 0 1 0 -3.50 0M135.6 110.5a1.75 1.75 0 1 0 3.50 0a1.75 1.75 0 1 0 -3.50 0M137.2 107.8a1.75 1.75 0 1 0 3.50 0a1.75 1.75 0 1 0 -3.50 0M144.5 110.2a1.75 1.75 0 1 0 3.50 0a1.75 1.75 0 1 0 -3.50 0M133.0 123.9a1.75 1.75 0 1 0 3.50 0a1.75 1.75 0 1 0 -3.50 0M147.9 121.7a1.75 1.75 0 1 0 3.50 0a1.75 1.75 0 1 0 -3.50 0M143.2 118.3a1.75 1.75 0 1 0 3.50 0a1.75 1.75 0 1 0 -3.50 0M145.5 123.9a1.75 1.75 0 1 0 3.50 0a1.75 1.75 0 1 0 -3.50 0M126.6 120.5a1.75 1.75 0 1 0 3.50 0a1.75 1.75 0 1 0 -3.50 0M130.5 111.8a1.75 1.75 0 1 0 3.50 0a1.75 1.75 0 1 0 -3.50 0M149.9 117.7a1.75 1.75 0 1 0 3.50 0a1.75 1.75 0 1 0 -3.50 0M150.9 122.4a1.75 1.75 0 1 0 3.50 0a1.75 1.75 0 1 0 -3.50 0M141.2 110.9a1.75 1.75 0 1 0 3.50 0a1.75 1.75 0 1 0 -3.50 0M146.3 112.1a1.75 1.75 0 1 0 3.50 0a1.75 1.75 0 1 0 -3.50 0M125.7 119.3a1.75 1.75 0 1 0 3.50 0a1.75 1.75 0 1 0 -3.50 0M129.1 119.6a1.75 1.75 0 1 0 3.50 0a1.75 1.75 0 1 0 -3.50 0M123.5 123.4a1.75 1.75 0 1 0 3.50 0a1.75 1.75 0 1 0 -3.50 0M131.8 116.4a1.75 1.75 0 1 0 3.50 0a1.75 1.75 0 1 0 -3.50 0M131.2 114.6a1.75 1.75 0 1 0 3.50 0a1.75 1.75 0 1 0 -3.50 0M137.1 111.9a1.75 1.75 0 1 0 3.50 0a1.75 1.75 0 1 0 -3.50 0M142.5 119.3a1.75 1.75 0 1 0 3.50 0a1.75 1.75 0 1 0 -3.50 0M129.1 121.0a1.75 1.75 0 1 0 3.50 0a1.75 1.75 0 1 0 -3.50 0M146.4 113.3a1.75 1.75 0 1 0 3.50 0a1.75 1.75 0 1 0 -3.50 0M137.6 110.7a1.75 1.75 0 1 0 3.50 0a1.75 1.75 0 1 0 -3.50 0M153.9 117.0a1.75 1.75 0 1 0 3.50 0a1.75 1.75 0 1 0 -3.50 0M145.1 114.0a1.75 1.75 0 1 0 3.50 0a1.75 1.75 0 1 0 -3.50 0M146.0 111.4a1.75 1.75 0 1 0 3.50 0a1.75 1.75 0 1 0 -3.50 0M149.0 121.1a1.75 1.75 0 1 0 3.50 0a1.75 1.75 0 1 0 -3.50 0M122.8 117.5a1.75 1.75 0 1 0 3.50 0a1.75 1.75 0 1 0 -3.50 0M126.4 119.5a1.75 1.75 0 1 0 3.50 0a1.75 1.75 0 1 0 -3.50 0M149.2 121.0a1.75 1.75 0 1 0 3.50 0a1.75 1.75 0 1 0 -3.50 0M139.6 109.4a1.75 1.75 0 1 0 3.50 0a1.75 1.75 0 1 0 -3.50 0M149.5 119.1a1.75 1.75 0 1 0 3.50 0a1.75 1.75 0 1 0 -3.50 0M137.4 111.5a1.75 1.75 0 1 0 3.50 0a1.75 1.75 0 1 0 -3.50 0M147.6 109.7a1.75 1.75 0 1 0 3.50 0a1.75 1.75 0 1 0 -3.50 0M148.8 112.4a1.75 1.75 0 1 0 3.50 0a1.75 1.75 0 1 0 -3.50 0M140.2 116.2a1.75 1.75 0 1 0 3.50 0a1.75 1.75 0 1 0 -3.50 0M146.5 122.4a1.75 1.75 0 1 0 3.50 0a1.75 1.75 0 1 0 -3.50 0M135.0 122.3a1.75 1.75 0 1 0 3.50 0a1.75 1.75 0 1 0 -3.50 0M139.3 113.5a1.75 1.75 0 1 0 3.50 0a1.75 1.75 0 1 0 -3.50 0M149.0 121.7a1.75 1.75 0 1 0 3.50 0a1.75 1.75 0 1 0 -3.50 0M148.4 126.0a1.75 1.75 0 1 0 3.50 0a1.75 1.75 0 1 0 -3.50 0M139.0 113.9a1.75 1.75 0 1 0 3.50 0a1.75 1.75 0 1 0 -3.50 0M149.5 112.8a1.75 1.75 0 1 0 3.50 0a1.75 1.75 0 1 0 -3.50 0M137.9 112.1a1.75 1.75 0 1 0 3.50 0a1.75 1.75 0 1 0 -3.50 0M152.0 124.5a1.75 1.75 0 1 0 3.50 0a1.75 1.75 0 1 0 -3.50 0M150.7 127.2a1.75 1.75 0 1 0 3.50 0a1.75 1.75 0 1 0 -3.50 0M152.5 113.8a1.75 1.75 0 1 0 3.50 0a1.75 1.75 0 1 0 -3.50 0M141.5 122.3a1.75 1.75 0 1 0 3.50 0a1.75 1.75 0 1 0 -3.50 0M135.5 120.0a1.75 1.75 0 1 0 3.50 0a1.75 1.75 0 1 0 -3.50 0M146.1 110.6a1.75 1.75 0 1 0 3.50 0a1.75 1.75 0 1 0 -3.50 0M155.7 125.5a1.75 1.75 0 1 0 3.50 0a1.75 1.75 0 1 0 -3.50 0M144.9 111.6a1.75 1.75 0 1 0 3.50 0a1.75 1.75 0 1 0 -3.50 0M137.0 117.9a1.75 1.75 0 1 0 3.50 0a1.75 1.75 0 1 0 -3.50 0M146.2 114.9a1.75 1.75 0 1 0 3.50 0a1.75 1.75 0 1 0 -3.50 0M150.7 118.3a1.75 1.75 0 1 0 3.50 0a1.75 1.75 0 1 0 -3.50 0M152.1 109.7a1.75 1.75 0 1 0 3.50 0a1.75 1.75 0 1 0 -3.50 0M135.9 115.4a1.75 1.75 0 1 0 3.50 0a1.75 1.75 0 1 0 -3.50 0M145.4 112.7a1.75 1.75 0 1 0 3.50 0a1.75 1.75 0 1 0 -3.50 0M149.6 112.0a1.75 1.75 0 1 0 3.50 0a1.75 1.75 0 1 0 -3.50 0M141.6 117.3a1.75 1.75 0 1 0 3.50 0a1.75 1.75 0 1 0 -3.50 0M150.6 123.3a1.75 1.75 0 1 0 3.50 0a1.75 1.75 0 1 0 -3.50 0M142.8 116.7a1.75 1.75 0 1 0 3.50 0a1.75 1.75 0 1 0 -3.50 0M155.6 126.6a1.75 1.75 0 1 0 3.50 0a1.75 1.75 0 1 0 -3.50 0M148.5 109.7a1.75 1.75 0 1 0 3.50 0a1.75 1.75 0 1 0 -3.50 0M144.7 120.6a1.75 1.75 0 1 0 3.50 0a1.75 1.75 0 1 0 -3.50 0M156.8 126.1a1.75 1.75 0 1 0 3.50 0a1.75 1.75 0 1 0 -3.50 0M137.2 117.1a1.75 1.75 0 1 0 3.50 0a1.75 1.75 0 1 0 -3.50 0M148.5 113.6a1.75 1.75 0 1 0 3.50 0a1.75 1.75 0 1 0 -3.50 0M135.8 122.9a1.75 1.75 0 1 0 3.50 0a1.75 1.75 0 1 0 -3.50 0M152.0 116.5a1.75 1.75 0 1 0 3.50 0a1.75 1.75 0 1 0 -3.50 0M136.2 115.6a1.75 1.75 0 1 0 3.50 0a1.75 1.75 0 1 0 -3.50 0M136.4 127.3a1.75 1.75 0 1 0 3.50 0a1.75 1.75 0 1 0 -3.50 0M135.4 113.4a1.75 1.75 0 1 0 3.50 0a1.75 1.75 0 1 0 -3.50 0M151.9 110.3a1.75 1.75 0 1 0 3.50 0a1.75 1.75 0 1 0 -3.50 0M138.0 118.4a1.75 1.75 0 1 0 3.50 0a1.75 1.75 0 1 0 -3.50 0M153.4 111.0a1.75 1.75 0 1 0 3.50 0a1.75 1.75 0 1 0 -3.50 0M138.2 123.2a1.75 1.75 0 1 0 3.50 0a1.75 1.75 0 1 0 -3.50 0M144.0 114.4a1.75 1.75 0 1 0 3.50 0a1.75 1.75 0 1 0 -3.50 0M137.1 112.5a1.75 1.75 0 1 0 3.50 0a1.75 1.75 0 1 0 -3.50 0M140.2 122.7a1.75 1.75 0 1 0 3.50 0a1.75 1.75 0 1 0 -3.50 0M154.8 126.0a1.75 1.75 0 1 0 3.50 0a1.75 1.75 0 1 0 -3.50 0M145.1 127.1a1.75 1.75 0 1 0 3.50 0a1.75 1.75 0 1 0 -3.50 0M141.2 103.2a1.75 1.75 0 1 0 3.50 0a1.75 1.75 0 1 0 -3.50 0M135.9 110.9a1.75 1.75 0 1 0 3.50 0a1.75 1.75 0 1 0 -3.50 0M146.1 100.3a1.75 1.75 0 1 0 3.50 0a1.75 1.75 0 1 0 -3.50 0M125.6 115.2a1.75 1.75 0 1 0 3.50 0a1.75 1.75 0 1 0 -3.50 0M122.3 112.6a1.75 1.75 0 1 0 3.50 0a1.75 1.75 0 1 0 -3.50 0M131.1 102.5a1.75 1.75 0 1 0 3.50 0a1.75 1.75 0 1 0 -3.50 0M127.9 106.4a1.75 1.75 0 1 0 3.50 0a1.75 1.75 0 1 0 -3.50 0M150.7 103.8a1.75 1.75 0 1 0 3.50 0a1.75 1.75 0 1 0 -3.50 0M124.8 111.4a1.75 1.75 0 1 0 3.50 0a1.75 1.75 0 1 0 -3.50 0M134.1 112.8a1.75 1.75 0 1 0 3.50 0a1.75 1.75 0 1 0 -3.50 0M151.0 108.3a1.75 1.75 0 1 0 3.50 0a1.75 1.75 0 1 0 -3.50 0M118.6 111.7a1.75 1.75 0 1 0 3.50 0a1.75 1.75 0 1 0 -3.50 0M141.3 114.2a1.75 1.75 0 1 0 3.50 0a1.75 1.75 0 1 0 -3.50 0M150.5 112.7a1.75 1.75 0 1 0 3.50 0a1.75 1.75 0 1 0 -3.50 0M128.4 104.6a1.75 1.75 0 1 0 3.50 0a1.75 1.75 0 1 0 -3.50 0M132.5 104.4a1.75 1.75 0 1 0 3.50 0a1.75 1.75 0 1 0 -3.50 0M126.9 114.4a1.75 1.75 0 1 0 3.50 0a1.75 1.75 0 1 0 -3.50 0M133.9 109.4a1.75 1.75 0 1 0 3.50 0a1.75 1.75 0 1 0 -3.50 0M152.0 111.6a1.75 1.75 0 1 0 3.50 0a1.75 1.75 0 1 0 -3.50 0M127.5 114.6a1.75 1.75 0 1 0 3.50 0a1.75 1.75 0 1 0 -3.50 0M148.8 115.8a1.75 1.75 0 1 0 3.50 0a1.75 1.75 0 1 0 -3.50 0M145.9 111.6a1.75 1.75 0 1 0 3.50 0a1.75 1.75 0 1 0 -3.50 0M149.1 102.6a1.75 1.75 0 1 0 3.50 0a1.75 1.75 0 1 0 -3.50 0M138.2 68.8a1.75 1.75 0 1 0 3.50 0a1.75 1.75 0 1 0 -3.50 0M137.6 72.9a1.75 1.75 0 1 0 3.50 0a1.75 1.75 0 1 0 -3.50 0M139.2 77.0a1.75 1.75 0 1 0 3.50 0a1.75 1.75 0 1 0 -3.50 0M137.6 83.1a1.75 1.75 0 1 0 3.50 0a1.75 1.75 0 1 0 -3.50 0M143.4 84.8a1.75 1.75 0 1 0 3.50 0a1.75 1.75 0 1 0 -3.50 0M114.5 93.0a1.75 1.75 0 1 0 3.50 0a1.75 1.75 0 1 0 -3.50 0M123.2 95.8a1.75 1.75 0 1 0 3.50 0a1.75 1.75 0 1 0 -3.50 0M132.8 93.0a1.75 1.75 0 1 0 3.50 0a1.75 1.75 0 1 0 -3.50 0M134.2 91.4a1.75 1.75 0 1 0 3.50 0a1.75 1.75 0 1 0 -3.50 0M149.6 95.2a1.75 1.75 0 1 0 3.50 0a1.75 1.75 0 1 0 -3.50 0M140.8 97.2a1.75 1.75 0 1 0 3.50 0a1.75 1.75 0 1 0 -3.50 0M140.1 100.5a1.75 1.75 0 1 0 3.50 0a1.75 1.75 0 1 0 -3.50 0M144.9 102.1a1.75 1.75 0 1 0 3.50 0a1.75 1.75 0 1 0 -3.50 0M152.8 102.6a1.75 1.75 0 1 0 3.50 0a1.75 1.75 0 1 0 -3.50 0M104.8 104.3a1.75 1.75 0 1 0 3.50 0a1.75 1.75 0 1 0 -3.50 0M111.5 107.6a1.75 1.75 0 1 0 3.50 0a1.75 1.75 0 1 0 -3.50 0M135.1 106.2a1.75 1.75 0 1 0 3.50 0a1.75 1.75 0 1 0 -3.50 0M140.8 104.6a1.75 1.75 0 1 0 3.50 0a1.75 1.75 0 1 0 -3.50 0M147.4 107.9a1.75 1.75 0 1 0 3.50 0a1.75 1.75 0 1 0 -3.50 0M149.9 109.2a1.75 1.75 0 1 0 3.50 0a1.75 1.75 0 1 0 -3.50 0M118.5 111.7a1.75 1.75 0 1 0 3.50 0a1.75 1.75 0 1 0 -3.50 0M151.6 113.7a1.75 1.75 0 1 0 3.50 0a1.75 1.75 0 1 0 -3.50 0M155.2 115.3a1.75 1.75 0 1 0 3.50 0a1.75 1.75 0 1 0 -3.50 0M111.3 106.9a1.75 1.75 0 1 0 3.50 0a1.75 1.75 0 1 0 -3.50 0M118.8 111.6a1.75 1.75 0 1 0 3.50 0a1.75 1.75 0 1 0 -3.50 0M113.7 126.2a1.75 1.75 0 1 0 3.50 0a1.75 1.75 0 1 0 -3.50 0M115.7 141.4a1.75 1.75 0 1 0 3.50 0a1.75 1.75 0 1 0 -3.50 0M119.0 117.0a1.75 1.75 0 1 0 3.50 0a1.75 1.75 0 1 0 -3.50 0M117.8 150.2a1.75 1.75 0 1 0 3.50 0a1.75 1.75 0 1 0 -3.50 0M153.1 102.3a1.75 1.75 0 1 0 3.50 0a1.75 1.75 0 1 0 -3.50 0M113.5 126.5a1.75 1.75 0 1 0 3.50 0a1.75 1.75 0 1 0 -3.50 0M115.2 141.4a1.75 1.75 0 1 0 3.50 0a1.75 1.75 0 1 0 -3.50 0M68.5 206.7a1.75 1.75 0 1 0 3.50 0a1.75 1.75 0 1 0 -3.50 0M109.2 174.0a1.75 1.75 0 1 0 3.50 0a1.75 1.75 0 1 0 -3.50 0M115.2 168.3a1.75 1.75 0 1 0 3.50 0a1.75 1.75 0 1 0 -3.50 0M119.3 167.4a1.75 1.75 0 1 0 3.50 0a1.75 1.75 0 1 0 -3.50 0M115.2 171.9a1.75 1.75 0 1 0 3.50 0a1.75 1.75 0 1 0 -3.50 0M119.7 216.6a1.75 1.75 0 1 0 3.50 0a1.75 1.75 0 1 0 -3.50 0M124.2 216.6a1.75 1.75 0 1 0 3.50 0a1.75 1.75 0 1 0 -3.50 0M121.8 223.2a1.75 1.75 0 1 0 3.50 0a1.75 1.75 0 1 0 -3.50 0M120.2 226.5a1.75 1.75 0 1 0 3.50 0a1.75 1.75 0 1 0 -3.50 0M125.2 236.4a1.75 1.75 0 1 0 3.50 0a1.75 1.75 0 1 0 -3.50 0M126.0 239.4a1.75 1.75 0 1 0 3.50 0a1.75 1.75 0 1 0 -3.50 0M129.2 234.5a1.75 1.75 0 1 0 3.50 0a1.75 1.75 0 1 0 -3.50 0"/>
<polygon fill="#000" points="207.0,135.0 209.5,133.5 211.0,135.5 211.0,143.0 211.8,151.3 212.4,160.0 213.2,168.3 214.2,176.5 215.2,184.8 216.2,193.0 217.6,201.3 218.8,209.5 217.0,215.0 215.5,210.0 212.5,193.0 209.5,176.5 208.0,164.5 207.3,160.0 207.0,151.3 206.5,143.0"/>
<path fill="#000" d="M212.1 161.1a1.75 1.75 0 1 0 3.50 0a1.75 1.75 0 1 0 -3.50 0M217.1 206.1a1.75 1.75 0 1 0 3.50 0a1.75 1.75 0 1 0 -3.50 0M214.4 188.9a1.75 1.75 0 1 0 3.50 0a1.75 1.75 0 1 0 -3.50 0M212.2 171.6a1.75 1.75 0 1 0 3.50 0a1.75 1.75 0 1 0 -3.50 0M208.5 133.8a1.75 1.75 0 1 0 3.50 0a1.75 1.75 0 1 0 -3.50 0M204.2 137.5a1.75 1.75 0 1 0 3.50 0a1.75 1.75 0 1 0 -3.50 0M216.5 215.5a1.75 1.75 0 1 0 3.50 0a1.75 1.75 0 1 0 -3.50 0M208.2 187.1a1.75 1.75 0 1 0 3.50 0a1.75 1.75 0 1 0 -3.50 0M210.3 194.6a1.75 1.75 0 1 0 3.50 0a1.75 1.75 0 1 0 -3.50 0M210.2 139.6a1.75 1.75 0 1 0 3.50 0a1.75 1.75 0 1 0 -3.50 0M211.8 203.7a1.75 1.75 0 1 0 3.50 0a1.75 1.75 0 1 0 -3.50 0M206.5 133.6a1.75 1.75 0 1 0 3.50 0a1.75 1.75 0 1 0 -3.50 0M218.1 215.5a1.75 1.75 0 1 0 3.50 0a1.75 1.75 0 1 0 -3.50 0M210.9 139.6a1.75 1.75 0 1 0 3.50 0a1.75 1.75 0 1 0 -3.50 0M213.1 211.1a1.75 1.75 0 1 0 3.50 0a1.75 1.75 0 1 0 -3.50 0M214.9 194.0a1.75 1.75 0 1 0 3.50 0a1.75 1.75 0 1 0 -3.50 0M204.5 137.6a1.75 1.75 0 1 0 3.50 0a1.75 1.75 0 1 0 -3.50 0M216.4 191.1a1.75 1.75 0 1 0 3.50 0a1.75 1.75 0 1 0 -3.50 0M205.4 172.0a1.75 1.75 0 1 0 3.50 0a1.75 1.75 0 1 0 -3.50 0M205.7 167.6a1.75 1.75 0 1 0 3.50 0a1.75 1.75 0 1 0 -3.50 0M204.5 148.5a1.75 1.75 0 1 0 3.50 0a1.75 1.75 0 1 0 -3.50 0M206.1 173.7a1.75 1.75 0 1 0 3.50 0a1.75 1.75 0 1 0 -3.50 0M210.9 148.9a1.75 1.75 0 1 0 3.50 0a1.75 1.75 0 1 0 -3.50 0M214.8 216.6a1.75 1.75 0 1 0 3.50 0a1.75 1.75 0 1 0 -3.50 0M217.2 195.6a1.75 1.75 0 1 0 3.50 0a1.75 1.75 0 1 0 -3.50 0M209.0 186.9a1.75 1.75 0 1 0 3.50 0a1.75 1.75 0 1 0 -3.50 0M215.3 215.0a1.75 1.75 0 1 0 3.50 0a1.75 1.75 0 1 0 -3.50 0M205.5 163.7a1.75 1.75 0 1 0 3.50 0a1.75 1.75 0 1 0 -3.50 0M217.3 201.1a1.75 1.75 0 1 0 3.50 0a1.75 1.75 0 1 0 -3.50 0M212.2 166.9a1.75 1.75 0 1 0 3.50 0a1.75 1.75 0 1 0 -3.50 0M218.0 201.9a1.75 1.75 0 1 0 3.50 0a1.75 1.75 0 1 0 -3.50 0M211.0 160.8a1.75 1.75 0 1 0 3.50 0a1.75 1.75 0 1 0 -3.50 0M212.1 155.8a1.75 1.75 0 1 0 3.50 0a1.75 1.75 0 1 0 -3.50 0M203.4 148.5a1.75 1.75 0 1 0 3.50 0a1.75 1.75 0 1 0 -3.50 0M204.0 154.7a1.75 1.75 0 1 0 3.50 0a1.75 1.75 0 1 0 -3.50 0M215.3 194.9a1.75 1.75 0 1 0 3.50 0a1.75 1.75 0 1 0 -3.50 0M218.3 214.8a1.75 1.75 0 1 0 3.50 0a1.75 1.75 0 1 0 -3.50 0M212.2 212.6a1.75 1.75 0 1 0 3.50 0a1.75 1.75 0 1 0 -3.50 0M210.3 148.5a1.75 1.75 0 1 0 3.50 0a1.75 1.75 0 1 0 -3.50 0M209.5 139.7a1.75 1.75 0 1 0 3.50 0a1.75 1.75 0 1 0 -3.50 0M217.6 197.8a1.75 1.75 0 1 0 3.50 0a1.75 1.75 0 1 0 -3.50 0M203.7 136.4a1.75 1.75 0 1 0 3.50 0a1.75 1.75 0 1 0 -3.50 0M205.1 133.4a1.75 1.75 0 1 0 3.50 0a1.75 1.75 0 1 0 -3.50 0M214.9 186.9a1.75 1.75 0 1 0 3.50 0a1.75 1.75 0 1 0 -3.50 0M214.3 216.8a1.75 1.75 0 1 0 3.50 0a1.75 1.75 0 1 0 -3.50 0M210.4 201.1a1.75 1.75 0 1 0 3.50 0a1.75 1.75 0 1 0 -3.50 0M212.7 171.2a1.75 1.75 0 1 0 3.50 0a1.75 1.75 0 1 0 -3.50 0M218.8 207.1a1.75 1.75 0 1 0 3.50 0a1.75 1.75 0 1 0 -3.50 0M209.5 192.3a1.75 1.75 0 1 0 3.50 0a1.75 1.75 0 1 0 -3.50 0M210.0 190.4a1.75 1.75 0 1 0 3.50 0a1.75 1.75 0 1 0 -3.50 0M219.0 213.2a1.75 1.75 0 1 0 3.50 0a1.75 1.75 0 1 0 -3.50 0M218.1 201.2a1.75 1.75 0 1 0 3.50 0a1.75 1.75 0 1 0 -3.50 0M216.2 203.8a1.75 1.75 0 1 0 3.50 0a1.75 1.75 0 1 0 -3.50 0M207.4 185.3a1.75 1.75 0 1 0 3.50 0a1.75 1.75 0 1 0 -3.50 0M211.2 155.7a1.75 1.75 0 1 0 3.50 0a1.75 1.75 0 1 0 -3.50 0M212.6 211.3a1.75 1.75 0 1 0 3.50 0a1.75 1.75 0 1 0 -3.50 0M212.8 169.1a1.75 1.75 0 1 0 3.50 0a1.75 1.75 0 1 0 -3.50 0M215.2 188.6a1.75 1.75 0 1 0 3.50 0a1.75 1.75 0 1 0 -3.50 0M216.6 198.3a1.75 1.75 0 1 0 3.50 0a1.75 1.75 0 1 0 -3.50 0M210.9 141.9a1.75 1.75 0 1 0 3.50 0a1.75 1.75 0 1 0 -3.50 0M215.1 195.7a1.75 1.75 0 1 0 3.50 0a1.75 1.75 0 1 0 -3.50 0M206.2 175.5a1.75 1.75 0 1 0 3.50 0a1.75 1.75 0 1 0 -3.50 0M213.6 178.4a1.75 1.75 0 1 0 3.50 0a1.75 1.75 0 1 0 -3.50 0M216.5 191.5a1.75 1.75 0 1 0 3.50 0a1.75 1.75 0 1 0 -3.50 0M210.8 203.9a1.75 1.75 0 1 0 3.50 0a1.75 1.75 0 1 0 -3.50 0M219.1 212.7a1.75 1.75 0 1 0 3.50 0a1.75 1.75 0 1 0 -3.50 0M212.3 167.2a1.75 1.75 0 1 0 3.50 0a1.75 1.75 0 1 0 -3.50 0M212.2 159.1a1.75 1.75 0 1 0 3.50 0a1.75 1.75 0 1 0 -3.50 0M203.5 149.5a1.75 1.75 0 1 0 3.50 0a1.75 1.75 0 1 0 -3.50 0M205.1 156.5a1.75 1.75 0 1 0 3.50 0a1.75 1.75 0 1 0 -3.50 0M213.6 181.0a1.75 1.75 0 1 0 3.50 0a1.75 1.75 0 1 0 -3.50 0M213.6 179.3a1.75 1.75 0 1 0 3.50 0a1.75 1.75 0 1 0 -3.50 0M209.1 184.7a1.75 1.75 0 1 0 3.50 0a1.75 1.75 0 1 0 -3.50 0M214.5 213.0a1.75 1.75 0 1 0 3.50 0a1.75 1.75 0 1 0 -3.50 0M211.7 160.0a1.75 1.75 0 1 0 3.50 0a1.75 1.75 0 1 0 -3.50 0M216.9 217.8a1.75 1.75 0 1 0 3.50 0a1.75 1.75 0 1 0 -3.50 0M209.1 189.7a1.75 1.75 0 1 0 3.50 0a1.75 1.75 0 1 0 -3.50 0M215.2 180.0a1.75 1.75 0 1 0 3.50 0a1.75 1.75 0 1 0 -3.50 0M205.7 175.7a1.75 1.75 0 1 0 3.50 0a1.75 1.75 0 1 0 -3.50 0M204.4 160.7a1.75 1.75 0 1 0 3.50 0a1.75 1.75 0 1 0 -3.50 0M210.2 146.1a1.75 1.75 0 1 0 3.50 0a1.75 1.75 0 1 0 -3.50 0M203.8 142.3a1.75 1.75 0 1 0 3.50 0a1.75 1.75 0 1 0 -3.50 0M215.4 194.6a1.75 1.75 0 1 0 3.50 0a1.75 1.75 0 1 0 -3.50 0M209.7 192.1a1.75 1.75 0 1 0 3.50 0a1.75 1.75 0 1 0 -3.50 0M210.2 145.2a1.75 1.75 0 1 0 3.50 0a1.75 1.75 0 1 0 -3.50 0M211.2 148.6a1.75 1.75 0 1 0 3.50 0a1.75 1.75 0 1 0 -3.50 0M214.2 175.1a1.75 1.75 0 1 0 3.50 0a1.75 1.75 0 1 0 -3.50 0M211.0 143.9a1.75 1.75 0 1 0 3.50 0a1.75 1.75 0 1 0 -3.50 0M214.5 192.9a1.75 1.75 0 1 0 3.50 0a1.75 1.75 0 1 0 -3.50 0M208.9 192.7a1.75 1.75 0 1 0 3.50 0a1.75 1.75 0 1 0 -3.50 0M209.2 194.2a1.75 1.75 0 1 0 3.50 0a1.75 1.75 0 1 0 -3.50 0M209.4 190.6a1.75 1.75 0 1 0 3.50 0a1.75 1.75 0 1 0 -3.50 0M206.3 177.1a1.75 1.75 0 1 0 3.50 0a1.75 1.75 0 1 0 -3.50 0M211.1 161.2a1.75 1.75 0 1 0 3.50 0a1.75 1.75 0 1 0 -3.50 0M211.5 168.4a1.75 1.75 0 1 0 3.50 0a1.75 1.75 0 1 0 -3.50 0M211.9 155.8a1.75 1.75 0 1 0 3.50 0a1.75 1.75 0 1 0 -3.50 0M215.9 193.4a1.75 1.75 0 1 0 3.50 0a1.75 1.75 0 1 0 -3.50 0M211.6 164.5a1.75 1.75 0 1 0 3.50 0a1.75 1.75 0 1 0 -3.50 0M211.1 195.8a1.75 1.75 0 1 0 3.50 0a1.75 1.75 0 1 0 -3.50 0M206.6 171.3a1.75 1.75 0 1 0 3.50 0a1.75 1.75 0 1 0 -3.50 0M209.1 134.3a1.75 1.75 0 1 0 3.50 0a1.75 1.75 0 1 0 -3.50 0M214.2 216.6a1.75 1.75 0 1 0 3.50 0a1.75 1.75 0 1 0 -3.50 0M216.3 196.4a1.75 1.75 0 1 0 3.50 0a1.75 1.75 0 1 0 -3.50 0M211.2 164.0a1.75 1.75 0 1 0 3.50 0a1.75 1.75 0 1 0 -3.50 0M217.2 207.9a1.75 1.75 0 1 0 3.50 0a1.75 1.75 0 1 0 -3.50 0M217.3 209.9a1.75 1.75 0 1 0 3.50 0a1.75 1.75 0 1 0 -3.50 0M210.2 148.4a1.75 1.75 0 1 0 3.50 0a1.75 1.75 0 1 0 -3.50 0M208.6 191.3a1.75 1.75 0 1 0 3.50 0a1.75 1.75 0 1 0 -3.50 0M208.5 188.2a1.75 1.75 0 1 0 3.50 0a1.75 1.75 0 1 0 -3.50 0M213.1 176.4a1.75 1.75 0 1 0 3.50 0a1.75 1.75 0 1 0 -3.50 0M205.1 150.2a1.75 1.75 0 1 0 3.50 0a1.75 1.75 0 1 0 -3.50 0M207.1 183.2a1.75 1.75 0 1 0 3.50 0a1.75 1.75 0 1 0 -3.50 0M209.3 134.8a1.75 1.75 0 1 0 3.50 0a1.75 1.75 0 1 0 -3.50 0M216.3 202.8a1.75 1.75 0 1 0 3.50 0a1.75 1.75 0 1 0 -3.50 0M212.2 165.6a1.75 1.75 0 1 0 3.50 0a1.75 1.75 0 1 0 -3.50 0M204.6 139.5a1.75 1.75 0 1 0 3.50 0a1.75 1.75 0 1 0 -3.50 0M211.5 157.0a1.75 1.75 0 1 0 3.50 0a1.75 1.75 0 1 0 -3.50 0M214.8 176.9a1.75 1.75 0 1 0 3.50 0a1.75 1.75 0 1 0 -3.50 0M213.3 181.1a1.75 1.75 0 1 0 3.50 0a1.75 1.75 0 1 0 -3.50 0M211.9 160.3a1.75 1.75 0 1 0 3.50 0a1.75 1.75 0 1 0 -3.50 0M209.8 145.8a1.75 1.75 0 1 0 3.50 0a1.75 1.75 0 1 0 -3.50 0M214.1 190.0a1.75 1.75 0 1 0 3.50 0a1.75 1.75 0 1 0 -3.50 0M210.7 204.7a1.75 1.75 0 1 0 3.50 0a1.75 1.75 0 1 0 -3.50 0M209.3 196.0a1.75 1.75 0 1 0 3.50 0a1.75 1.75 0 1 0 -3.50 0M203.5 150.8a1.75 1.75 0 1 0 3.50 0a1.75 1.75 0 1 0 -3.50 0M214.3 175.2a1.75 1.75 0 1 0 3.50 0a1.75 1.75 0 1 0 -3.50 0M210.9 148.9a1.75 1.75 0 1 0 3.50 0a1.75 1.75 0 1 0 -3.50 0M211.6 159.1a1.75 1.75 0 1 0 3.50 0a1.75 1.75 0 1 0 -3.50 0M205.3 158.7a1.75 1.75 0 1 0 3.50 0a1.75 1.75 0 1 0 -3.50 0M214.4 179.6a1.75 1.75 0 1 0 3.50 0a1.75 1.75 0 1 0 -3.50 0M214.5 178.4a1.75 1.75 0 1 0 3.50 0a1.75 1.75 0 1 0 -3.50 0M204.2 137.8a1.75 1.75 0 1 0 3.50 0a1.75 1.75 0 1 0 -3.50 0M218.2 208.1a1.75 1.75 0 1 0 3.50 0a1.75 1.75 0 1 0 -3.50 0M218.5 202.8a1.75 1.75 0 1 0 3.50 0a1.75 1.75 0 1 0 -3.50 0M211.5 200.8a1.75 1.75 0 1 0 3.50 0a1.75 1.75 0 1 0 -3.50 0M204.6 155.8a1.75 1.75 0 1 0 3.50 0a1.75 1.75 0 1 0 -3.50 0M213.7 174.0a1.75 1.75 0 1 0 3.50 0a1.75 1.75 0 1 0 -3.50 0M206.7 170.0a1.75 1.75 0 1 0 3.50 0a1.75 1.75 0 1 0 -3.50 0M211.3 131.0a1.75 1.75 0 1 0 3.50 0a1.75 1.75 0 1 0 -3.50 0M213.5 136.5a1.75 1.75 0 1 0 3.50 0a1.75 1.75 0 1 0 -3.50 0M212.3 141.7a1.75 1.75 0 1 0 3.50 0a1.75 1.75 0 1 0 -3.50 0M210.3 149.9a1.75 1.75 0 1 0 3.50 0a1.75 1.75 0 1 0 -3.50 0M210.5 146.7a1.75 1.75 0 1 0 3.50 0a1.75 1.75 0 1 0 -3.50 0M209.5 153.2a1.75 1.75 0 1 0 3.50 0a1.75 1.75 0 1 0 -3.50 0M211.2 152.2a1.75 1.75 0 1 0 3.50 0a1.75 1.75 0 1 0 -3.50 0M214.5 161.0a1.75 1.75 0 1 0 3.50 0a1.75 1.75 0 1 0 -3.50 0M214.7 161.6a1.75 1.75 0 1 0 3.50 0a1.75 1.75 0 1 0 -3.50 0M213.5 169.6a1.75 1.75 0 1 0 3.50 0a1.75 1.75 0 1 0 -3.50 0M213.8 169.8a1.75 1.75 0 1 0 3.50 0a1.75 1.75 0 1 0 -3.50 0M215.7 180.4a1.75 1.75 0 1 0 3.50 0a1.75 1.75 0 1 0 -3.50 0M214.5 181.1a1.75 1.75 0 1 0 3.50 0a1.75 1.75 0 1 0 -3.50 0M218.1 191.5a1.75 1.75 0 1 0 3.50 0a1.75 1.75 0 1 0 -3.50 0M217.6 184.7a1.75 1.75 0 1 0 3.50 0a1.75 1.75 0 1 0 -3.50 0M217.3 193.3a1.75 1.75 0 1 0 3.50 0a1.75 1.75 0 1 0 -3.50 0M217.1 199.5a1.75 1.75 0 1 0 3.50 0a1.75 1.75 0 1 0 -3.50 0M218.6 203.1a1.75 1.75 0 1 0 3.50 0a1.75 1.75 0 1 0 -3.50 0M219.4 207.7a1.75 1.75 0 1 0 3.50 0a1.75 1.75 0 1 0 -3.50 0M222.7 211.2a1.75 1.75 0 1 0 3.50 0a1.75 1.75 0 1 0 -3.50 0M219.4 213.2a1.75 1.75 0 1 0 3.50 0a1.75 1.75 0 1 0 -3.50 0M217.1 217.4a1.75 1.75 0 1 0 3.50 0a1.75 1.75 0 1 0 -3.50 0M209.3 116.6a1.75 1.75 0 1 0 3.50 0a1.75 1.75 0 1 0 -3.50 0M206.8 124.5a1.75 1.75 0 1 0 3.50 0a1.75 1.75 0 1 0 -3.50 0M207.8 126.5a1.75 1.75 0 1 0 3.50 0a1.75 1.75 0 1 0 -3.50 0M215.2 123.7a1.75 1.75 0 1 0 3.50 0a1.75 1.75 0 1 0 -3.50 0M210.2 133.1a1.75 1.75 0 1 0 3.50 0a1.75 1.75 0 1 0 -3.50 0M209.3 115.8a1.75 1.75 0 1 0 3.50 0a1.75 1.75 0 1 0 -3.50 0M225.1 165.3a1.75 1.75 0 1 0 3.50 0a1.75 1.75 0 1 0 -3.50 0M215.7 166.9a1.75 1.75 0 1 0 3.50 0a1.75 1.75 0 1 0 -3.50 0M224.6 166.9a1.75 1.75 0 1 0 3.50 0a1.75 1.75 0 1 0 -3.50 0M220.9 170.2a1.75 1.75 0 1 0 3.50 0a1.75 1.75 0 1 0 -3.50 0M223.8 171.9a1.75 1.75 0 1 0 3.50 0a1.75 1.75 0 1 0 -3.50 0M216.8 182.3a1.75 1.75 0 1 0 3.50 0a1.75 1.75 0 1 0 -3.50 0M214.3 189.4a1.75 1.75 0 1 0 3.50 0a1.75 1.75 0 1 0 -3.50 0M219.2 190.2a1.75 1.75 0 1 0 3.50 0a1.75 1.75 0 1 0 -3.50 0M229.2 197.7a1.75 1.75 0 1 0 3.50 0a1.75 1.75 0 1 0 -3.50 0M230.3 203.8a1.75 1.75 0 1 0 3.50 0a1.75 1.75 0 1 0 -3.50 0M220.9 207.9a1.75 1.75 0 1 0 3.50 0a1.75 1.75 0 1 0 -3.50 0M221.8 212.0a1.75 1.75 0 1 0 3.50 0a1.75 1.75 0 1 0 -3.50 0M215.7 212.8a1.75 1.75 0 1 0 3.50 0a1.75 1.75 0 1 0 -3.50 0M227.6 215.0a1.75 1.75 0 1 0 3.50 0a1.75 1.75 0 1 0 -3.50 0M215.7 213.0a1.75 1.75 0 1 0 3.50 0a1.75 1.75 0 1 0 -3.50 0M221.4 211.7a1.75 1.75 0 1 0 3.50 0a1.75 1.75 0 1 0 -3.50 0M227.1 215.3a1.75 1.75 0 1 0 3.50 0a1.75 1.75 0 1 0 -3.50 0M219.8 218.6a1.75 1.75 0 1 0 3.50 0a1.75 1.75 0 1 0 -3.50 0M220.9 225.2a1.75 1.75 0 1 0 3.50 0a1.75 1.75 0 1 0 -3.50 0M225.3 228.5a1.75 1.75 0 1 0 3.50 0a1.75 1.75 0 1 0 -3.50 0M234.7 230.1a1.75 1.75 0 1 0 3.50 0a1.75 1.75 0 1 0 -3.50 0M229.2 233.5a1.75 1.75 0 1 0 3.50 0a1.75 1.75 0 1 0 -3.50 0M248.2 232.3a1.75 1.75 0 1 0 3.50 0a1.75 1.75 0 1 0 -3.50 0M234.4 229.9a1.75 1.75 0 1 0 3.50 0a1.75 1.75 0 1 0 -3.50 0M248.3 232.3a1.75 1.75 0 1 0 3.50 0a1.75 1.75 0 1 0 -3.50 0M229.2 233.6a1.75 1.75 0 1 0 3.50 0a1.75 1.75 0 1 0 -3.50 0"/>
<polygon fill="#ababab" points="510.0,236.0 513.0,237.0 515.3,232.0 516.5,227.5 518.3,228.5 518.3,234.0 521.0,238.5 521.9,243.8 523.2,250.5 524.6,257.3 525.9,268.5 528.0,282.0 529.3,295.5 530.7,305.0 532.3,318.4 534.1,305.0 534.7,295.5 536.1,282.0 538.1,268.5 539.5,255.0 542.3,250.5 543.8,243.8 545.6,234.3 548.0,227.6 550.0,225.0 554.3,227.6 559.7,234.3 562.4,243.8 565.1,250.5 566.5,257.3 566.6,265.0 568.1,272.7 565.8,280.4 564.3,288.1 562.5,295.9 561.5,303.6 559.6,311.3 553.9,317.0 547.2,322.4 539.1,326.5 532.3,329.2 525.5,326.5 518.8,322.4 513.4,317.0 506.6,310.3 501.3,307.8 499.9,303.5 497.2,296.8 496.9,290.0 497.6,282.0 497.6,275.3 498.9,268.5 500.3,261.8 501.0,257.3 502.3,250.5 504.0,244.7 505.8,239.0"/>
<path fill="#ababab" d="M548.9 228.4a1.75 1.75 0 1 0 3.50 0a1.75 1.75 0 1 0 -3.50 0M550.0 226.7a1.75 1.75 0 1 0 3.50 0a1.75 1.75 0 1 0 -3.50 0M555.2 231.0a1.75 1.75 0 1 0 3.50 0a1.75 1.75 0 1 0 -3.50 0M555.5 230.9a1.75 1.75 0 1 0 3.50 0a1.75 1.75 0 1 0 -3.50 0M556.7 231.2a1.75 1.75 0 1 0 3.50 0a1.75 1.75 0 1 0 -3.50 0M558.9 237.2a1.75 1.75 0 1 0 3.50 0a1.75 1.75 0 1 0 -3.50 0M559.8 234.7a1.75 1.75 0 1 0 3.50 0a1.75 1.75 0 1 0 -3.50 0M556.6 235.1a1.75 1.75 0 1 0 3.50 0a1.75 1.75 0 1 0 -3.50 0M566.2 249.2a1.75 1.75 0 1 0 3.50 0a1.75 1.75 0 1 0 -3.50 0M562.6 247.8a1.75 1.75 0 1 0 3.50 0a1.75 1.75 0 1 0 -3.50 0M563.6 243.8a1.75 1.75 0 1 0 3.50 0a1.75 1.75 0 1 0 -3.50 0M564.4 250.7a1.75 1.75 0 1 0 3.50 0a1.75 1.75 0 1 0 -3.50 0M564.4 251.6a1.75 1.75 0 1 0 3.50 0a1.75 1.75 0 1 0 -3.50 0M566.0 260.9a1.75 1.75 0 1 0 3.50 0a1.75 1.75 0 1 0 -3.50 0M566.7 260.7a1.75 1.75 0 1 0 3.50 0a1.75 1.75 0 1 0 -3.50 0M564.0 262.2a1.75 1.75 0 1 0 3.50 0a1.75 1.75 0 1 0 -3.50 0M565.5 268.9a1.75 1.75 0 1 0 3.50 0a1.75 1.75 0 1 0 -3.50 0M564.6 267.3a1.75 1.75 0 1 0 3.50 0a1.75 1.75 0 1 0 -3.50 0M570.1 271.9a1.75 1.75 0 1 0 3.50 0a1.75 1.75 0 1 0 -3.50 0M565.4 278.4a1.75 1.75 0 1 0 3.50 0a1.75 1.75 0 1 0 -3.50 0M566.6 275.4a1.75 1.75 0 1 0 3.50 0a1.75 1.75 0 1 0 -3.50 0M568.2 273.8a1.75 1.75 0 1 0 3.50 0a1.75 1.75 0 1 0 -3.50 0M561.2 286.0a1.75 1.75 0 1 0 3.50 0a1.75 1.75 0 1 0 -3.50 0M566.0 283.9a1.75 1.75 0 1 0 3.50 0a1.75 1.75 0 1 0 -3.50 0M563.4 287.9a1.75 1.75 0 1 0 3.50 0a1.75 1.75 0 1 0 -3.50 0M562.9 289.9a1.75 1.75 0 1 0 3.50 0a1.75 1.75 0 1 0 -3.50 0M557.4 294.4a1.75 1.75 0 1 0 3.50 0a1.75 1.75 0 1 0 -3.50 0M563.4 291.6a1.75 1.75 0 1 0 3.50 0a1.75 1.75 0 1 0 -3.50 0M559.6 296.3a1.75 1.75 0 1 0 3.50 0a1.75 1.75 0 1 0 -3.50 0M559.3 297.8a1.75 1.75 0 1 0 3.50 0a1.75 1.75 0 1 0 -3.50 0M559.4 296.4a1.75 1.75 0 1 0 3.50 0a1.75 1.75 0 1 0 -3.50 0M562.6 310.5a1.75 1.75 0 1 0 3.50 0a1.75 1.75 0 1 0 -3.50 0M560.3 304.7a1.75 1.75 0 1 0 3.50 0a1.75 1.75 0 1 0 -3.50 0M561.1 304.4a1.75 1.75 0 1 0 3.50 0a1.75 1.75 0 1 0 -3.50 0M554.5 317.0a1.75 1.75 0 1 0 3.50 0a1.75 1.75 0 1 0 -3.50 0M557.2 315.7a1.75 1.75 0 1 0 3.50 0a1.75 1.75 0 1 0 -3.50 0M557.3 312.9a1.75 1.75 0 1 0 3.50 0a1.75 1.75 0 1 0 -3.50 0M547.8 320.4a1.75 1.75 0 1 0 3.50 0a1.75 1.75 0 1 0 -3.50 0M551.3 317.5a1.75 1.75 0 1 0 3.50 0a1.75 1.75 0 1 0 -3.50 0M551.2 319.5a1.75 1.75 0 1 0 3.50 0a1.75 1.75 0 1 0 -3.50 0M538.1 327.5a1.75 1.75 0 1 0 3.50 0a1.75 1.75 0 1 0 -3.50 0M538.1 325.6a1.75 1.75 0 1 0 3.50 0a1.75 1.75 0 1 0 -3.50 0M543.0 321.8a1.75 1.75 0 1 0 3.50 0a1.75 1.75 0 1 0 -3.50 0M534.0 330.8a1.75 1.75 0 1 0 3.50 0a1.75 1.75 0 1 0 -3.50 0M537.4 328.5a1.75 1.75 0 1 0 3.50 0a1.75 1.75 0 1 0 -3.50 0M535.9 327.9a1.75 1.75 0 1 0 3.50 0a1.75 1.75 0 1 0 -3.50 0M525.2 327.3a1.75 1.75 0 1 0 3.50 0a1.75 1.75 0 1 0 -3.50 0M529.3 330.8a1.75 1.75 0 1 0 3.50 0a1.75 1.75 0 1 0 -3.50 0M530.0 328.7a1.75 1.75 0 1 0 3.50 0a1.75 1.75 0 1 0 -3.50 0M519.6 324.2a1.75 1.75 0 1 0 3.50 0a1.75 1.75 0 1 0 -3.50 0M522.9 322.4a1.75 1.75 0 1 0 3.50 0a1.75 1.75 0 1 0 -3.50 0M519.5 326.2a1.75 1.75 0 1 0 3.50 0a1.75 1.75 0 1 0 -3.50 0M512.9 320.3a1.75 1.75 0 1 0 3.50 0a1.75 1.75 0 1 0 -3.50 0M516.2 321.6a1.75 1.75 0 1 0 3.50 0a1.75 1.75 0 1 0 -3.50 0M511.2 318.4a1.75 1.75 0 1 0 3.50 0a1.75 1.75 0 1 0 -3.50 0M510.6 315.5a1.75 1.75 0 1 0 3.50 0a1.75 1.75 0 1 0 -3.50 0M505.4 313.3a1.75 1.75 0 1 0 3.50 0a1.75 1.75 0 1 0 -3.50 0M504.9 310.9a1.75 1.75 0 1 0 3.50 0a1.75 1.75 0 1 0 -3.50 0M500.4 307.6a1.75 1.75 0 1 0 3.50 0a1.75 1.75 0 1 0 -3.50 0M504.4 309.8a1.75 1.75 0 1 0 3.50 0a1.75 1.75 0 1 0 -3.50 0M497.6 308.2a1.75 1.75 0 1 0 3.50 0a1.75 1.75 0 1 0 -3.50 0M498.1 304.9a1.75 1.75 0 1 0 3.50 0a1.75 1.75 0 1 0 -3.50 0M495.8 302.4a1.75 1.75 0 1 0 3.50 0a1.75 1.75 0 1 0 -3.50 0M498.4 301.1a1.75 1.75 0 1 0 3.50 0a1.75 1.75 0 1 0 -3.50 0M497.0 302.6a1.75 1.75 0 1 0 3.50 0a1.75 1.75 0 1 0 -3.50 0M495.2 295.3a1.75 1.75 0 1 0 3.50 0a1.75 1.75 0 1 0 -3.50 0M493.2 293.1a1.75 1.75 0 1 0 3.50 0a1.75 1.75 0 1 0 -3.50 0M496.3 287.8a1.75 1.75 0 1 0 3.50 0a1.75 1.75 0 1 0 -3.50 0M494.9 282.6a1.75 1.75 0 1 0 3.50 0a1.75 1.75 0 1 0 -3.50 0M494.3 287.8a1.75 1.75 0 1 0 3.50 0a1.75 1.75 0 1 0 -3.50 0M494.1 279.0a1.75 1.75 0 1 0 3.50 0a1.75 1.75 0 1 0 -3.50 0M494.7 279.5a1.75 1.75 0 1 0 3.50 0a1.75 1.75 0 1 0 -3.50 0M494.8 271.1a1.75 1.75 0 1 0 3.50 0a1.75 1.75 0 1 0 -3.50 0M495.1 268.9a1.75 1.75 0 1 0 3.50 0a1.75 1.75 0 1 0 -3.50 0M499.1 262.0a1.75 1.75 0 1 0 3.50 0a1.75 1.75 0 1 0 -3.50 0M499.2 264.8a1.75 1.75 0 1 0 3.50 0a1.75 1.75 0 1 0 -3.50 0M497.6 261.0a1.75 1.75 0 1 0 3.50 0a1.75 1.75 0 1 0 -3.50 0M498.3 257.6a1.75 1.75 0 1 0 3.50 0a1.75 1.75 0 1 0 -3.50 0M499.1 252.3a1.75 1.75 0 1 0 3.50 0a1.75 1.75 0 1 0 -3.50 0M499.4 252.8a1.75 1.75 0 1 0 3.50 0a1.75 1.75 0 1 0 -3.50 0M500.8 247.5a1.75 1.75 0 1 0 3.50 0a1.75 1.75 0 1 0 -3.50 0M502.8 244.9a1.75 1.75 0 1 0 3.50 0a1.75 1.75 0 1 0 -3.50 0M504.0 244.8a1.75 1.75 0 1 0 3.50 0a1.75 1.75 0 1 0 -3.50 0M503.8 239.6a1.75 1.75 0 1 0 3.50 0a1.75 1.75 0 1 0 -3.50 0M506.2 227.6a1.75 1.75 0 1 0 3.50 0a1.75 1.75 0 1 0 -3.50 0M507.6 230.0a1.75 1.75 0 1 0 3.50 0a1.75 1.75 0 1 0 -3.50 0M509.1 232.5a1.75 1.75 0 1 0 3.50 0a1.75 1.75 0 1 0 -3.50 0M510.5 235.0a1.75 1.75 0 1 0 3.50 0a1.75 1.75 0 1 0 -3.50 0M507.6 217.2a1.75 1.75 0 1 0 3.50 0a1.75 1.75 0 1 0 -3.50 0M514.4 217.2a1.75 1.75 0 1 0 3.50 0a1.75 1.75 0 1 0 -3.50 0M504.8 221.7a1.75 1.75 0 1 0 3.50 0a1.75 1.75 0 1 0 -3.50 0M514.0 223.5a1.75 1.75 0 1 0 3.50 0a1.75 1.75 0 1 0 -3.50 0M499.8 226.2a1.75 1.75 0 1 0 3.50 0a1.75 1.75 0 1 0 -3.50 0M501.4 229.8a1.75 1.75 0 1 0 3.50 0a1.75 1.75 0 1 0 -3.50 0M501.4 231.6a1.75 1.75 0 1 0 3.50 0a1.75 1.75 0 1 0 -3.50 0M518.5 231.2a1.75 1.75 0 1 0 3.50 0a1.75 1.75 0 1 0 -3.50 0M494.1 238.8a1.75 1.75 0 1 0 3.50 0a1.75 1.75 0 1 0 -3.50 0M498.6 240.0a1.75 1.75 0 1 0 3.50 0a1.75 1.75 0 1 0 -3.50 0M504.1 238.2a1.75 1.75 0 1 0 3.50 0a1.75 1.75 0 1 0 -3.50 0M500.4 246.5a1.75 1.75 0 1 0 3.50 0a1.75 1.75 0 1 0 -3.50 0M495.1 247.8a1.75 1.75 0 1 0 3.50 0a1.75 1.75 0 1 0 -3.50 0M518.0 238.2a1.75 1.75 0 1 0 3.50 0a1.75 1.75 0 1 0 -3.50 0M503.8 213.5a1.75 1.75 0 1 0 3.50 0a1.75 1.75 0 1 0 -3.50 0M507.9 217.3a1.75 1.75 0 1 0 3.50 0a1.75 1.75 0 1 0 -3.50 0M514.0 217.3a1.75 1.75 0 1 0 3.50 0a1.75 1.75 0 1 0 -3.50 0M547.8 216.6a1.75 1.75 0 1 0 3.50 0a1.75 1.75 0 1 0 -3.50 0M551.8 216.6a1.75 1.75 0 1 0 3.50 0a1.75 1.75 0 1 0 -3.50 0M557.1 217.0a1.75 1.75 0 1 0 3.50 0a1.75 1.75 0 1 0 -3.50 0M559.9 217.6a1.75 1.75 0 1 0 3.50 0a1.75 1.75 0 1 0 -3.50 0M503.9 213.4a1.75 1.75 0 1 0 3.50 0a1.75 1.75 0 1 0 -3.50 0M507.8 216.8a1.75 1.75 0 1 0 3.50 0a1.75 1.75 0 1 0 -3.50 0M507.4 219.2a1.75 1.75 0 1 0 3.50 0a1.75 1.75 0 1 0 -3.50 0M514.0 217.0a1.75 1.75 0 1 0 3.50 0a1.75 1.75 0 1 0 -3.50 0M504.6 222.2a1.75 1.75 0 1 0 3.50 0a1.75 1.75 0 1 0 -3.50 0M514.0 223.2a1.75 1.75 0 1 0 3.50 0a1.75 1.75 0 1 0 -3.50 0M499.9 226.2a1.75 1.75 0 1 0 3.50 0a1.75 1.75 0 1 0 -3.50 0M501.2 230.3a1.75 1.75 0 1 0 3.50 0a1.75 1.75 0 1 0 -3.50 0M506.4 227.8a1.75 1.75 0 1 0 3.50 0a1.75 1.75 0 1 0 -3.50 0M514.8 227.6a1.75 1.75 0 1 0 3.50 0a1.75 1.75 0 1 0 -3.50 0M518.5 231.4a1.75 1.75 0 1 0 3.50 0a1.75 1.75 0 1 0 -3.50 0M493.8 238.6a1.75 1.75 0 1 0 3.50 0a1.75 1.75 0 1 0 -3.50 0M498.6 240.0a1.75 1.75 0 1 0 3.50 0a1.75 1.75 0 1 0 -3.50 0M494.4 248.1a1.75 1.75 0 1 0 3.50 0a1.75 1.75 0 1 0 -3.50 0M485.6 253.0a1.75 1.75 0 1 0 3.50 0a1.75 1.75 0 1 0 -3.50 0M487.8 256.6a1.75 1.75 0 1 0 3.50 0a1.75 1.75 0 1 0 -3.50 0M490.4 255.3a1.75 1.75 0 1 0 3.50 0a1.75 1.75 0 1 0 -3.50 0M498.2 252.6a1.75 1.75 0 1 0 3.50 0a1.75 1.75 0 1 0 -3.50 0M499.9 246.5a1.75 1.75 0 1 0 3.50 0a1.75 1.75 0 1 0 -3.50 0M545.1 220.1a1.75 1.75 0 1 0 3.50 0a1.75 1.75 0 1 0 -3.50 0M548.5 216.8a1.75 1.75 0 1 0 3.50 0a1.75 1.75 0 1 0 -3.50 0M551.9 216.1a1.75 1.75 0 1 0 3.50 0a1.75 1.75 0 1 0 -3.50 0M549.9 219.5a1.75 1.75 0 1 0 3.50 0a1.75 1.75 0 1 0 -3.50 0M556.6 217.4a1.75 1.75 0 1 0 3.50 0a1.75 1.75 0 1 0 -3.50 0M559.4 217.8a1.75 1.75 0 1 0 3.50 0a1.75 1.75 0 1 0 -3.50 0M555.2 223.5a1.75 1.75 0 1 0 3.50 0a1.75 1.75 0 1 0 -3.50 0M556.6 224.2a1.75 1.75 0 1 0 3.50 0a1.75 1.75 0 1 0 -3.50 0M562.8 225.5a1.75 1.75 0 1 0 3.50 0a1.75 1.75 0 1 0 -3.50 0M559.8 228.9a1.75 1.75 0 1 0 3.50 0a1.75 1.75 0 1 0 -3.50 0M563.6 242.4a1.75 1.75 0 1 0 3.50 0a1.75 1.75 0 1 0 -3.50 0M565.9 250.5a1.75 1.75 0 1 0 3.50 0a1.75 1.75 0 1 0 -3.50 0M543.1 231.0a1.75 1.75 0 1 0 3.50 0a1.75 1.75 0 1 0 -3.50 0M541.0 245.8a1.75 1.75 0 1 0 3.50 0a1.75 1.75 0 1 0 -3.50 0M487.8 257.0a1.75 1.75 0 1 0 3.50 0a1.75 1.75 0 1 0 -3.50 0M489.8 261.8a1.75 1.75 0 1 0 3.50 0a1.75 1.75 0 1 0 -3.50 0M494.4 260.4a1.75 1.75 0 1 0 3.50 0a1.75 1.75 0 1 0 -3.50 0M495.9 266.5a1.75 1.75 0 1 0 3.50 0a1.75 1.75 0 1 0 -3.50 0M494.2 270.5a1.75 1.75 0 1 0 3.50 0a1.75 1.75 0 1 0 -3.50 0M493.8 273.9a1.75 1.75 0 1 0 3.50 0a1.75 1.75 0 1 0 -3.50 0M495.1 290.8a1.75 1.75 0 1 0 3.50 0a1.75 1.75 0 1 0 -3.50 0M489.1 294.9a1.75 1.75 0 1 0 3.50 0a1.75 1.75 0 1 0 -3.50 0M484.4 297.6a1.75 1.75 0 1 0 3.50 0a1.75 1.75 0 1 0 -3.50 0M479.6 300.3a1.75 1.75 0 1 0 3.50 0a1.75 1.75 0 1 0 -3.50 0M455.1 259.2a1.75 1.75 0 1 0 3.50 0a1.75 1.75 0 1 0 -3.50 0M437.6 273.8a1.75 1.75 0 1 0 3.50 0a1.75 1.75 0 1 0 -3.50 0M445.2 280.1a1.75 1.75 0 1 0 3.50 0a1.75 1.75 0 1 0 -3.50 0M470.6 283.1a1.75 1.75 0 1 0 3.50 0a1.75 1.75 0 1 0 -3.50 0M451.6 293.5a1.75 1.75 0 1 0 3.50 0a1.75 1.75 0 1 0 -3.50 0M451.4 297.4a1.75 1.75 0 1 0 3.50 0a1.75 1.75 0 1 0 -3.50 0M478.8 299.7a1.75 1.75 0 1 0 3.50 0a1.75 1.75 0 1 0 -3.50 0M483.9 305.5a1.75 1.75 0 1 0 3.50 0a1.75 1.75 0 1 0 -3.50 0M485.2 311.3a1.75 1.75 0 1 0 3.50 0a1.75 1.75 0 1 0 -3.50 0M485.6 314.7a1.75 1.75 0 1 0 3.50 0a1.75 1.75 0 1 0 -3.50 0M490.2 317.0a1.75 1.75 0 1 0 3.50 0a1.75 1.75 0 1 0 -3.50 0M490.8 312.9a1.75 1.75 0 1 0 3.50 0a1.75 1.75 0 1 0 -3.50 0M494.9 316.6a1.75 1.75 0 1 0 3.50 0a1.75 1.75 0 1 0 -3.50 0M485.6 252.8a1.75 1.75 0 1 0 3.50 0a1.75 1.75 0 1 0 -3.50 0M487.9 256.9a1.75 1.75 0 1 0 3.50 0a1.75 1.75 0 1 0 -3.50 0M490.2 255.1a1.75 1.75 0 1 0 3.50 0a1.75 1.75 0 1 0 -3.50 0M489.1 261.6a1.75 1.75 0 1 0 3.50 0a1.75 1.75 0 1 0 -3.50 0M493.8 260.4a1.75 1.75 0 1 0 3.50 0a1.75 1.75 0 1 0 -3.50 0M497.2 260.4a1.75 1.75 0 1 0 3.50 0a1.75 1.75 0 1 0 -3.50 0M494.9 266.2a1.75 1.75 0 1 0 3.50 0a1.75 1.75 0 1 0 -3.50 0M493.8 272.0a1.75 1.75 0 1 0 3.50 0a1.75 1.75 0 1 0 -3.50 0M493.8 274.3a1.75 1.75 0 1 0 3.50 0a1.75 1.75 0 1 0 -3.50 0M494.9 291.2a1.75 1.75 0 1 0 3.50 0a1.75 1.75 0 1 0 -3.50 0M485.2 297.4a1.75 1.75 0 1 0 3.50 0a1.75 1.75 0 1 0 -3.50 0M487.9 296.2a1.75 1.75 0 1 0 3.50 0a1.75 1.75 0 1 0 -3.50 0M490.2 299.7a1.75 1.75 0 1 0 3.50 0a1.75 1.75 0 1 0 -3.50 0M492.6 303.2a1.75 1.75 0 1 0 3.50 0a1.75 1.75 0 1 0 -3.50 0M499.6 312.4a1.75 1.75 0 1 0 3.50 0a1.75 1.75 0 1 0 -3.50 0M499.6 317.0a1.75 1.75 0 1 0 3.50 0a1.75 1.75 0 1 0 -3.50 0M485.2 296.8a1.75 1.75 0 1 0 3.50 0a1.75 1.75 0 1 0 -3.50 0M488.6 295.4a1.75 1.75 0 1 0 3.50 0a1.75 1.75 0 1 0 -3.50 0M490.6 299.5a1.75 1.75 0 1 0 3.50 0a1.75 1.75 0 1 0 -3.50 0M483.9 305.5a1.75 1.75 0 1 0 3.50 0a1.75 1.75 0 1 0 -3.50 0M485.9 311.6a1.75 1.75 0 1 0 3.50 0a1.75 1.75 0 1 0 -3.50 0M485.9 315.0a1.75 1.75 0 1 0 3.50 0a1.75 1.75 0 1 0 -3.50 0M490.1 313.6a1.75 1.75 0 1 0 3.50 0a1.75 1.75 0 1 0 -3.50 0M490.1 317.0a1.75 1.75 0 1 0 3.50 0a1.75 1.75 0 1 0 -3.50 0M494.1 317.0a1.75 1.75 0 1 0 3.50 0a1.75 1.75 0 1 0 -3.50 0M498.8 314.3a1.75 1.75 0 1 0 3.50 0a1.75 1.75 0 1 0 -3.50 0M499.4 317.0a1.75 1.75 0 1 0 3.50 0a1.75 1.75 0 1 0 -3.50 0M502.9 319.7a1.75 1.75 0 1 0 3.50 0a1.75 1.75 0 1 0 -3.50 0M492.1 303.5a1.75 1.75 0 1 0 3.50 0a1.75 1.75 0 1 0 -3.50 0M496.8 307.6a1.75 1.75 0 1 0 3.50 0a1.75 1.75 0 1 0 -3.50 0M564.4 296.1a1.75 1.75 0 1 0 3.50 0a1.75 1.75 0 1 0 -3.50 0M567.0 300.8a1.75 1.75 0 1 0 3.50 0a1.75 1.75 0 1 0 -3.50 0M568.4 302.8a1.75 1.75 0 1 0 3.50 0a1.75 1.75 0 1 0 -3.50 0M565.6 307.6a1.75 1.75 0 1 0 3.50 0a1.75 1.75 0 1 0 -3.50 0M564.4 313.6a1.75 1.75 0 1 0 3.50 0a1.75 1.75 0 1 0 -3.50 0M567.0 315.7a1.75 1.75 0 1 0 3.50 0a1.75 1.75 0 1 0 -3.50 0M567.8 318.4a1.75 1.75 0 1 0 3.50 0a1.75 1.75 0 1 0 -3.50 0M558.2 319.1a1.75 1.75 0 1 0 3.50 0a1.75 1.75 0 1 0 -3.50 0M552.1 319.7a1.75 1.75 0 1 0 3.50 0a1.75 1.75 0 1 0 -3.50 0M563.0 302.8a1.75 1.75 0 1 0 3.50 0a1.75 1.75 0 1 0 -3.50 0M572.5 303.5a1.75 1.75 0 1 0 3.50 0a1.75 1.75 0 1 0 -3.50 0M556.4 216.9a1.75 1.75 0 1 0 3.50 0a1.75 1.75 0 1 0 -3.50 0M559.5 217.3a1.75 1.75 0 1 0 3.50 0a1.75 1.75 0 1 0 -3.50 0M555.5 223.5a1.75 1.75 0 1 0 3.50 0a1.75 1.75 0 1 0 -3.50 0M562.5 225.5a1.75 1.75 0 1 0 3.50 0a1.75 1.75 0 1 0 -3.50 0M559.8 229.2a1.75 1.75 0 1 0 3.50 0a1.75 1.75 0 1 0 -3.50 0M563.8 242.8a1.75 1.75 0 1 0 3.50 0a1.75 1.75 0 1 0 -3.50 0M571.8 242.2a1.75 1.75 0 1 0 3.50 0a1.75 1.75 0 1 0 -3.50 0M566.0 251.0a1.75 1.75 0 1 0 3.50 0a1.75 1.75 0 1 0 -3.50 0M570.6 249.7a1.75 1.75 0 1 0 3.50 0a1.75 1.75 0 1 0 -3.50 0M566.9 256.4a1.75 1.75 0 1 0 3.50 0a1.75 1.75 0 1 0 -3.50 0M578.8 256.4a1.75 1.75 0 1 0 3.50 0a1.75 1.75 0 1 0 -3.50 0M594.5 262.1a1.75 1.75 0 1 0 3.50 0a1.75 1.75 0 1 0 -3.50 0M589.9 265.9a1.75 1.75 0 1 0 3.50 0a1.75 1.75 0 1 0 -3.50 0M618.9 247.0a1.75 1.75 0 1 0 3.50 0a1.75 1.75 0 1 0 -3.50 0M637.0 251.6a1.75 1.75 0 1 0 3.50 0a1.75 1.75 0 1 0 -3.50 0M567.1 261.3a1.75 1.75 0 1 0 3.50 0a1.75 1.75 0 1 0 -3.50 0M562.5 248.2a1.75 1.75 0 1 0 3.50 0a1.75 1.75 0 1 0 -3.50 0M611.9 287.7a1.75 1.75 0 1 0 3.50 0a1.75 1.75 0 1 0 -3.50 0M568.6 287.4a1.75 1.75 0 1 0 3.50 0a1.75 1.75 0 1 0 -3.50 0M574.5 297.7a1.75 1.75 0 1 0 3.50 0a1.75 1.75 0 1 0 -3.50 0M573.4 302.8a1.75 1.75 0 1 0 3.50 0a1.75 1.75 0 1 0 -3.50 0M568.0 302.0a1.75 1.75 0 1 0 3.50 0a1.75 1.75 0 1 0 -3.50 0M582.9 301.3a1.75 1.75 0 1 0 3.50 0a1.75 1.75 0 1 0 -3.50 0M593.0 299.3a1.75 1.75 0 1 0 3.50 0a1.75 1.75 0 1 0 -3.50 0M586.9 307.0a1.75 1.75 0 1 0 3.50 0a1.75 1.75 0 1 0 -3.50 0M579.8 310.8a1.75 1.75 0 1 0 3.50 0a1.75 1.75 0 1 0 -3.50 0M586.0 314.4a1.75 1.75 0 1 0 3.50 0a1.75 1.75 0 1 0 -3.50 0M565.5 307.4a1.75 1.75 0 1 0 3.50 0a1.75 1.75 0 1 0 -3.50 0M564.0 314.1a1.75 1.75 0 1 0 3.50 0a1.75 1.75 0 1 0 -3.50 0M567.5 318.2a1.75 1.75 0 1 0 3.50 0a1.75 1.75 0 1 0 -3.50 0M558.6 319.0a1.75 1.75 0 1 0 3.50 0a1.75 1.75 0 1 0 -3.50 0M564.9 295.9a1.75 1.75 0 1 0 3.50 0a1.75 1.75 0 1 0 -3.50 0"/>
<path fill="#000" d="M508.9 198.4a1.75 1.75 0 1 0 3.50 0a1.75 1.75 0 1 0 -3.50 0M510.5 199.7a1.75 1.75 0 1 0 3.50 0a1.75 1.75 0 1 0 -3.50 0M509.1 210.5a1.75 1.75 0 1 0 3.50 0a1.75 1.75 0 1 0 -3.50 0M509.9 209.9a1.75 1.75 0 1 0 3.50 0a1.75 1.75 0 1 0 -3.50 0M563.0 181.2a1.75 1.75 0 1 0 3.50 0a1.75 1.75 0 1 0 -3.50 0M567.2 193.2a1.75 1.75 0 1 0 3.50 0a1.75 1.75 0 1 0 -3.50 0M561.9 197.3a1.75 1.75 0 1 0 3.50 0a1.75 1.75 0 1 0 -3.50 0M552.5 203.1a1.75 1.75 0 1 0 3.50 0a1.75 1.75 0 1 0 -3.50 0M554.1 201.4a1.75 1.75 0 1 0 3.50 0a1.75 1.75 0 1 0 -3.50 0M558.1 210.1a1.75 1.75 0 1 0 3.50 0a1.75 1.75 0 1 0 -3.50 0M509.4 211.1a1.75 1.75 0 1 0 3.50 0a1.75 1.75 0 1 0 -3.50 0M558.2 210.4a1.75 1.75 0 1 0 3.50 0a1.75 1.75 0 1 0 -3.50 0"/>
</svg>
</body></html>
